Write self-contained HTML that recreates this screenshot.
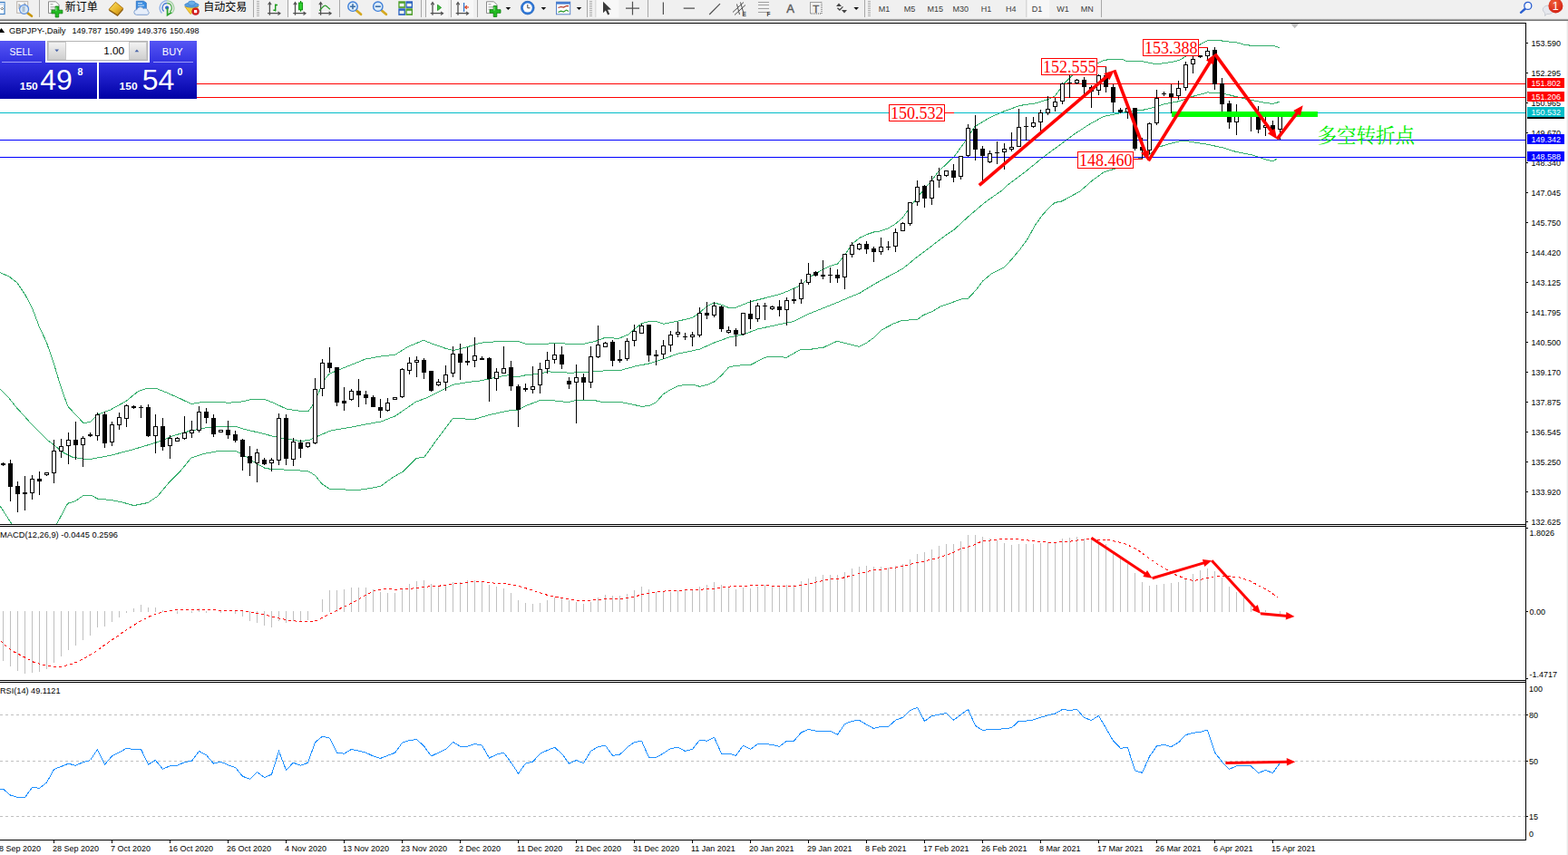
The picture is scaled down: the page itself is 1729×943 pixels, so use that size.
<!DOCTYPE html>
<html><head><meta charset="utf-8"><title>GBPJPY Daily</title>
<style>
html,body{margin:0;padding:0;background:#fff}
body{width:1729px;height:943px;overflow:hidden;position:relative;font-family:"Liberation Sans",sans-serif}
svg{position:absolute;left:0;top:0;display:block}
</style></head><body>
<svg width="1729" height="943" viewBox="0 0 1729 943">
<defs><clipPath id="mainclip"><rect x="0" y="26" width="1682" height="552"/></clipPath>
<linearGradient id="tbline" x1="0" y1="0" x2="0" y2="1"><stop offset="0" stop-color="#e0e0e0"/><stop offset="0.75" stop-color="#707070"/><stop offset="1" stop-color="#a0a0a0"/></linearGradient>
<linearGradient id="gold" x1="0" y1="0" x2="1" y2="1"><stop offset="0" stop-color="#fbe36a"/><stop offset="0.55" stop-color="#e8b62a"/><stop offset="1" stop-color="#b87a10"/></linearGradient>
<radialGradient id="redb" cx="0.4" cy="0.3" r="0.8"><stop offset="0" stop-color="#f0603a"/><stop offset="1" stop-color="#d01a10"/></radialGradient>
<linearGradient id="btn1" x1="0" y1="0" x2="0" y2="1"><stop offset="0" stop-color="#5656f4"/><stop offset="1" stop-color="#3030e0"/></linearGradient>
<linearGradient id="btn2" x1="0" y1="0" x2="0" y2="1"><stop offset="0" stop-color="#3232e2"/><stop offset="1" stop-color="#0000a4"/></linearGradient>
<linearGradient id="spin" x1="0" y1="0" x2="0" y2="1"><stop offset="0" stop-color="#f4f4f4"/><stop offset="0.5" stop-color="#e0e0e0"/><stop offset="1" stop-color="#cfcfcf"/></linearGradient>
</defs>
<rect x="0" y="0" width="1729" height="943" fill="#fff"/>
<g clip-path="url(#mainclip)">
<polyline fill="none" shape-rendering="crispEdges" stroke="#34ae6c" stroke-width="1" points="0,300.5 10.4,305.2 19.1,312.1 27.8,325.1 35.6,339.9 43.4,360.7 51.2,377.2 59,399.7 66.8,425.8 74.6,447.8 83.3,457.3 92,466.5 99.8,465.5 107.6,457.3 121.5,452.1 138.8,442.6 152.7,431.3 163.1,428.2 171.8,428.2 183.9,433 199.5,440 210.8,445.5 223.8,443.4 242.9,443.4 251.6,444.3 267.2,442.9 277.6,440.3 291.5,440.3 302.1,444.5 316,451.1 329.9,453.2 340.3,453.2 345.5,445.9 350.7,434.6 356.8,419.9 362.9,412.6 371.6,408.6 387.2,402.5 402.8,396.1 420.1,393 435.8,391.2 449.6,382.6 467,375.3 477.4,379.4 491.3,384.3 500,386.4 515.6,382.6 529.5,378.2 550.3,376.5 571.1,376.5 580,379.4 597.4,379.9 611.2,378.2 628.6,379.4 644.2,379.1 656.3,376.5 666.8,372.5 682.4,373.3 692.8,369 707.5,356.5 715.3,354.8 724,354.6 731.8,357.2 747.4,354.2 763.9,350.3 771.6,344.7 779.5,337.8 787.5,333.9 795.2,336 803.8,339.5 811.5,339.2 821.2,335.2 828.1,332.6 843.7,328.7 859.4,324.7 868,321.3 883.5,314.5 891.5,306.2 907.5,297.2 915.5,293.4 923.4,291.1 931.4,281.6 939.4,269.4 947.6,262.5 955.5,258.7 963.5,256 971.5,254.7 979.5,251.7 987.5,246.9 995.5,239.9 1003.4,228.6 1011.4,218.2 1019.6,207.8 1025.3,201.7 1034.7,189.3 1052.1,172.8 1065.9,153.7 1074.6,139.8 1092,129.4 1107.6,122.5 1124.9,116.4 1142.3,113.8 1156.2,109.5 1163.1,106 1173.5,92.1 1182.2,83.4 1195,75 1210.4,69.6 1216,67 1223.3,65.4 1237.2,65.4 1242.7,67.5 1260,67.8 1274.7,70.8 1292.1,68.5 1300.7,66.4 1307.7,62.1 1315,55 1323.3,49.1 1331.4,44.6 1343.3,44.3 1351.1,45.6 1363.5,46.8 1371.5,49.1 1379.5,50.3 1403.5,50.4 1411.4,52.6"/>
<polyline fill="none" shape-rendering="crispEdges" stroke="#34ae6c" stroke-width="1" points="0,428.8 10.4,439.6 17.4,448.6 34.7,467.7 52,485 59,490.3 69.4,499 79.8,504.2 92,506.2 100.6,506.2 121.5,502.4 147.5,495.5 173.5,487.7 190.9,480.7 208.2,475.5 225.6,472 242.9,470.3 260.3,470.3 270.7,473.8 286.3,477.3 302.1,481.5 316,484.1 329.9,486.3 340.3,485.8 350.7,480.9 364.6,475 387.2,471.1 402.8,468.1 420.1,465 435.8,458.9 449.6,449.4 458.3,443.3 472.2,438.1 486.1,431.1 500,424.2 515.6,421.6 529.5,419.9 550.3,415.5 560.7,413.8 569.4,415.9 581.5,413.4 595.6,412.4 603.4,409.8 628.6,411.2 649.4,410.3 666.8,408.9 685.8,408 701.5,403.7 715.3,401.1 727.5,397.3 747.4,390.2 771.6,385.1 788.2,377.7 803.8,372.1 819.6,369 835.6,362.9 851.6,359.5 867.5,356 873.9,354.9 888.9,347.4 906.3,340.4 922.1,334.1 939.4,326.7 948.1,323.2 963.5,313.7 979.5,305 995.5,296.3 1011.4,283.3 1027.6,271.1 1043.5,259 1051.5,253.8 1069.5,237.3 1086.9,222.6 1104.3,210.4 1111.1,204 1131.9,188.4 1151,172.8 1170,158.9 1183.9,148.5 1199.6,138.1 1216.9,128.5 1230.8,125.6 1246.4,122.5 1260.3,121.3 1267.8,119.6 1283.4,115 1299.5,111.8 1315.5,106.3 1331.4,102 1343.3,102.1 1356.5,105 1369.8,108.3 1383.1,111 1396.3,113.6 1403.5,114.4 1411.4,112.2"/>
<polyline fill="none" shape-rendering="crispEdges" stroke="#34ae6c" stroke-width="1" points="0,558 13,578"/>
<polyline fill="none" shape-rendering="crispEdges" stroke="#34ae6c" stroke-width="1" points="62.5,578 74.6,555.3 83.3,552.7 92,546.3 100.6,546.3 107.6,550.1 121.5,551.4 133.6,553.6 147.5,557.6 163.1,554.5 173.5,547.5 187.4,531 199.5,518.9 210.8,505 225.6,500.3 242.9,497.2 260.3,497.6 270.7,503.3 281.1,510.2 291.5,516 299.5,517.6 316,518.1 339.5,519.5 347.3,524.2 355.1,533.7 363.7,539.4 383.7,540.1 397.6,540.1 411.5,538 420.1,536 434,525.9 444.4,520.3 459.2,505.4 467.9,504.2 480.9,486 499.4,461.2 522.5,462.6 539.9,457.5 560.7,453 571.1,452.1 581.5,446.9 595.6,441.5 611.2,441.9 626.9,443.6 635.5,441.4 654.6,441.4 666.8,444 684.1,443.3 699.6,446.6 707.5,448.3 715.5,447.6 723.5,443.6 731.5,434.6 739.5,429.7 747.4,425.9 755.6,424.2 763.6,424.2 771.6,426.3 779.5,424.5 787.5,421.1 795.5,414.1 803.5,405.1 811.5,403.2 827.6,402.5 843.6,394.2 851.6,393.3 860,393.4 866.9,394.5 882.6,385.5 893.5,385.3 908,383.2 923,376.3 947.3,382.4 954.9,378.6 963,372.8 972.8,363.5 986.1,356.6 994.8,353.5 1011.5,352.3 1018.5,347.4 1027.7,343.6 1037,338.1 1047.4,334.6 1059.1,330.1 1067.5,329.3 1075.6,320.6 1083.4,310.2 1093.8,301.5 1107.7,294.6 1116.4,285 1125.1,274.6 1133.8,262.5 1140.7,249.5 1149.4,237.3 1156.3,229.5 1163.3,223.4 1170,222.2 1175.3,219.6 1190.9,211 1204.8,198.8 1216.9,190.1 1230,185.9 1240,180 1250,175.7 1259,174.4 1267.4,170.3 1277.2,162.3 1287.6,159.2 1300,156 1309.4,155.8 1331.4,159.3 1347.6,162.7 1363.5,167.6 1379.5,170.6 1395.5,175.8 1403.5,177.8 1408.3,174.9"/>
</g>
<g shape-rendering="crispEdges">
<rect x="0" y="92" width="1682" height="1" fill="#ff0000"/>
<rect x="0" y="107" width="1682" height="1" fill="#ff0000"/>
<rect x="0" y="124" width="1682" height="1" fill="#00bcc8"/>
<rect x="0" y="154" width="1682" height="1" fill="#0000ff"/>
<rect x="0" y="173" width="1682" height="1" fill="#0000ff"/>
</g>
<g shape-rendering="crispEdges">
<rect x="3" y="510" width="1" height="4" fill="#000"/>
<rect x="1" y="511" width="5" height="2" fill="#000"/>
<rect x="11" y="507" width="1" height="46" fill="#000"/>
<rect x="9" y="511" width="5" height="26" fill="#000"/>
<rect x="19" y="531" width="1" height="34" fill="#000"/>
<rect x="17" y="536" width="5" height="9" fill="#000"/>
<rect x="27" y="525" width="1" height="38" fill="#000"/>
<rect x="25" y="543" width="5" height="2" fill="#000"/>
<rect x="35" y="524" width="1" height="27" fill="#000"/>
<rect x="33" y="528" width="5" height="16" fill="#000"/>
<rect x="34" y="529" width="3" height="14" fill="#fff"/>
<rect x="43" y="520" width="1" height="26" fill="#000"/>
<rect x="41" y="528" width="5" height="3" fill="#000"/>
<rect x="51" y="521" width="1" height="4" fill="#000"/>
<rect x="49" y="521" width="5" height="3" fill="#000"/>
<rect x="50" y="522" width="3" height="1" fill="#fff"/>
<rect x="59" y="485" width="1" height="48" fill="#000"/>
<rect x="57" y="497" width="5" height="25" fill="#000"/>
<rect x="58" y="498" width="3" height="23" fill="#fff"/>
<rect x="67" y="484" width="1" height="21" fill="#000"/>
<rect x="65" y="492" width="5" height="6" fill="#000"/>
<rect x="66" y="493" width="3" height="4" fill="#fff"/>
<rect x="75" y="477" width="1" height="35" fill="#000"/>
<rect x="73" y="485" width="5" height="7" fill="#000"/>
<rect x="74" y="486" width="3" height="5" fill="#fff"/>
<rect x="83" y="465" width="1" height="42" fill="#000"/>
<rect x="81" y="485" width="5" height="6" fill="#000"/>
<rect x="91" y="481" width="1" height="34" fill="#000"/>
<rect x="89" y="483" width="5" height="8" fill="#000"/>
<rect x="90" y="484" width="3" height="6" fill="#fff"/>
<rect x="99" y="477" width="1" height="5" fill="#000"/>
<rect x="97" y="479" width="5" height="2" fill="#000"/>
<rect x="107" y="455" width="1" height="31" fill="#000"/>
<rect x="105" y="457" width="5" height="24" fill="#000"/>
<rect x="106" y="458" width="3" height="22" fill="#fff"/>
<rect x="115" y="454" width="1" height="40" fill="#000"/>
<rect x="113" y="457" width="5" height="32" fill="#000"/>
<rect x="123" y="465" width="1" height="27" fill="#000"/>
<rect x="121" y="468" width="5" height="20" fill="#000"/>
<rect x="122" y="469" width="3" height="18" fill="#fff"/>
<rect x="131" y="455" width="1" height="19" fill="#000"/>
<rect x="129" y="460" width="5" height="9" fill="#000"/>
<rect x="130" y="461" width="3" height="7" fill="#fff"/>
<rect x="139" y="446" width="1" height="25" fill="#000"/>
<rect x="137" y="447" width="5" height="15" fill="#000"/>
<rect x="138" y="448" width="3" height="13" fill="#fff"/>
<rect x="147" y="447" width="1" height="4" fill="#000"/>
<rect x="145" y="448" width="5" height="2" fill="#000"/>
<rect x="155" y="447" width="1" height="14" fill="#000"/>
<rect x="153" y="449" width="5" height="1" fill="#000"/>
<rect x="163" y="446" width="1" height="36" fill="#000"/>
<rect x="161" y="449" width="5" height="32" fill="#000"/>
<rect x="171" y="457" width="1" height="43" fill="#000"/>
<rect x="169" y="470" width="5" height="11" fill="#000"/>
<rect x="170" y="471" width="3" height="9" fill="#fff"/>
<rect x="179" y="461" width="1" height="36" fill="#000"/>
<rect x="177" y="470" width="5" height="23" fill="#000"/>
<rect x="187" y="480" width="1" height="26" fill="#000"/>
<rect x="185" y="483" width="5" height="9" fill="#000"/>
<rect x="186" y="484" width="3" height="7" fill="#fff"/>
<rect x="195" y="482" width="1" height="5" fill="#000"/>
<rect x="193" y="483" width="5" height="4" fill="#000"/>
<rect x="194" y="484" width="3" height="2" fill="#fff"/>
<rect x="203" y="459" width="1" height="26" fill="#000"/>
<rect x="201" y="477" width="5" height="7" fill="#000"/>
<rect x="202" y="478" width="3" height="5" fill="#fff"/>
<rect x="211" y="464" width="1" height="19" fill="#000"/>
<rect x="209" y="474" width="5" height="4" fill="#000"/>
<rect x="210" y="475" width="3" height="2" fill="#fff"/>
<rect x="219" y="448" width="1" height="29" fill="#000"/>
<rect x="217" y="454" width="5" height="21" fill="#000"/>
<rect x="218" y="455" width="3" height="19" fill="#fff"/>
<rect x="227" y="450" width="1" height="17" fill="#000"/>
<rect x="225" y="454" width="5" height="7" fill="#000"/>
<rect x="235" y="457" width="1" height="25" fill="#000"/>
<rect x="233" y="461" width="5" height="18" fill="#000"/>
<rect x="243" y="474" width="1" height="3" fill="#000"/>
<rect x="241" y="474" width="5" height="3" fill="#000"/>
<rect x="242" y="475" width="3" height="1" fill="#fff"/>
<rect x="251" y="464" width="1" height="20" fill="#000"/>
<rect x="249" y="474" width="5" height="6" fill="#000"/>
<rect x="259" y="475" width="1" height="13" fill="#000"/>
<rect x="257" y="479" width="5" height="7" fill="#000"/>
<rect x="267" y="484" width="1" height="35" fill="#000"/>
<rect x="265" y="485" width="5" height="19" fill="#000"/>
<rect x="275" y="492" width="1" height="33" fill="#000"/>
<rect x="273" y="503" width="5" height="8" fill="#000"/>
<rect x="283" y="495" width="1" height="37" fill="#000"/>
<rect x="281" y="499" width="5" height="12" fill="#000"/>
<rect x="282" y="500" width="3" height="10" fill="#fff"/>
<rect x="291" y="505" width="1" height="8" fill="#000"/>
<rect x="289" y="507" width="5" height="5" fill="#000"/>
<rect x="299" y="505" width="1" height="15" fill="#000"/>
<rect x="297" y="507" width="5" height="4" fill="#000"/>
<rect x="298" y="508" width="3" height="2" fill="#fff"/>
<rect x="307" y="456" width="1" height="57" fill="#000"/>
<rect x="305" y="461" width="5" height="47" fill="#000"/>
<rect x="306" y="462" width="3" height="45" fill="#fff"/>
<rect x="315" y="457" width="1" height="56" fill="#000"/>
<rect x="313" y="461" width="5" height="45" fill="#000"/>
<rect x="323" y="483" width="1" height="31" fill="#000"/>
<rect x="321" y="487" width="5" height="20" fill="#000"/>
<rect x="322" y="488" width="3" height="18" fill="#fff"/>
<rect x="331" y="485" width="1" height="20" fill="#000"/>
<rect x="329" y="488" width="5" height="7" fill="#000"/>
<rect x="339" y="488" width="1" height="6" fill="#000"/>
<rect x="337" y="488" width="5" height="5" fill="#000"/>
<rect x="338" y="489" width="3" height="3" fill="#fff"/>
<rect x="347" y="417" width="1" height="73" fill="#000"/>
<rect x="345" y="429" width="5" height="60" fill="#000"/>
<rect x="346" y="430" width="3" height="58" fill="#fff"/>
<rect x="355" y="396" width="1" height="41" fill="#000"/>
<rect x="353" y="400" width="5" height="29" fill="#000"/>
<rect x="354" y="401" width="3" height="27" fill="#fff"/>
<rect x="363" y="383" width="1" height="28" fill="#000"/>
<rect x="361" y="400" width="5" height="6" fill="#000"/>
<rect x="371" y="405" width="1" height="43" fill="#000"/>
<rect x="369" y="405" width="5" height="39" fill="#000"/>
<rect x="379" y="427" width="1" height="26" fill="#000"/>
<rect x="377" y="442" width="5" height="3" fill="#000"/>
<rect x="387" y="429" width="1" height="13" fill="#000"/>
<rect x="385" y="431" width="5" height="10" fill="#000"/>
<rect x="386" y="432" width="3" height="8" fill="#fff"/>
<rect x="395" y="418" width="1" height="31" fill="#000"/>
<rect x="393" y="431" width="5" height="5" fill="#000"/>
<rect x="403" y="431" width="1" height="15" fill="#000"/>
<rect x="401" y="435" width="5" height="4" fill="#000"/>
<rect x="411" y="436" width="1" height="13" fill="#000"/>
<rect x="409" y="438" width="5" height="11" fill="#000"/>
<rect x="419" y="440" width="1" height="21" fill="#000"/>
<rect x="417" y="449" width="5" height="4" fill="#000"/>
<rect x="427" y="439" width="1" height="15" fill="#000"/>
<rect x="425" y="444" width="5" height="9" fill="#000"/>
<rect x="426" y="445" width="3" height="7" fill="#fff"/>
<rect x="435" y="438" width="1" height="3" fill="#000"/>
<rect x="433" y="438" width="5" height="3" fill="#000"/>
<rect x="434" y="439" width="3" height="1" fill="#fff"/>
<rect x="443" y="406" width="1" height="33" fill="#000"/>
<rect x="441" y="407" width="5" height="31" fill="#000"/>
<rect x="442" y="408" width="3" height="29" fill="#fff"/>
<rect x="451" y="394" width="1" height="19" fill="#000"/>
<rect x="449" y="400" width="5" height="9" fill="#000"/>
<rect x="450" y="401" width="3" height="7" fill="#fff"/>
<rect x="459" y="393" width="1" height="23" fill="#000"/>
<rect x="457" y="397" width="5" height="3" fill="#000"/>
<rect x="458" y="398" width="3" height="1" fill="#fff"/>
<rect x="467" y="395" width="1" height="23" fill="#000"/>
<rect x="465" y="397" width="5" height="14" fill="#000"/>
<rect x="475" y="409" width="1" height="23" fill="#000"/>
<rect x="473" y="409" width="5" height="22" fill="#000"/>
<rect x="483" y="418" width="1" height="8" fill="#000"/>
<rect x="481" y="421" width="5" height="4" fill="#000"/>
<rect x="482" y="422" width="3" height="2" fill="#fff"/>
<rect x="491" y="403" width="1" height="28" fill="#000"/>
<rect x="489" y="413" width="5" height="9" fill="#000"/>
<rect x="490" y="414" width="3" height="7" fill="#fff"/>
<rect x="499" y="382" width="1" height="34" fill="#000"/>
<rect x="497" y="390" width="5" height="22" fill="#000"/>
<rect x="498" y="391" width="3" height="20" fill="#fff"/>
<rect x="507" y="379" width="1" height="40" fill="#000"/>
<rect x="505" y="390" width="5" height="10" fill="#000"/>
<rect x="515" y="383" width="1" height="20" fill="#000"/>
<rect x="513" y="398" width="5" height="2" fill="#000"/>
<rect x="523" y="372" width="1" height="33" fill="#000"/>
<rect x="521" y="392" width="5" height="6" fill="#000"/>
<rect x="522" y="393" width="3" height="4" fill="#fff"/>
<rect x="531" y="393" width="1" height="4" fill="#000"/>
<rect x="529" y="395" width="5" height="2" fill="#000"/>
<rect x="539" y="394" width="1" height="49" fill="#000"/>
<rect x="537" y="395" width="5" height="23" fill="#000"/>
<rect x="547" y="406" width="1" height="25" fill="#000"/>
<rect x="545" y="410" width="5" height="8" fill="#000"/>
<rect x="546" y="411" width="3" height="6" fill="#fff"/>
<rect x="555" y="382" width="1" height="30" fill="#000"/>
<rect x="553" y="406" width="5" height="6" fill="#000"/>
<rect x="554" y="407" width="3" height="4" fill="#fff"/>
<rect x="563" y="398" width="1" height="33" fill="#000"/>
<rect x="561" y="405" width="5" height="21" fill="#000"/>
<rect x="571" y="424" width="1" height="47" fill="#000"/>
<rect x="569" y="426" width="5" height="26" fill="#000"/>
<rect x="579" y="423" width="1" height="9" fill="#000"/>
<rect x="577" y="428" width="5" height="2" fill="#000"/>
<rect x="587" y="404" width="1" height="30" fill="#000"/>
<rect x="585" y="426" width="5" height="4" fill="#000"/>
<rect x="586" y="427" width="3" height="2" fill="#fff"/>
<rect x="595" y="400" width="1" height="34" fill="#000"/>
<rect x="593" y="407" width="5" height="18" fill="#000"/>
<rect x="594" y="408" width="3" height="16" fill="#fff"/>
<rect x="603" y="388" width="1" height="24" fill="#000"/>
<rect x="601" y="397" width="5" height="10" fill="#000"/>
<rect x="602" y="398" width="3" height="8" fill="#fff"/>
<rect x="611" y="379" width="1" height="22" fill="#000"/>
<rect x="609" y="391" width="5" height="6" fill="#000"/>
<rect x="610" y="392" width="3" height="4" fill="#fff"/>
<rect x="619" y="382" width="1" height="25" fill="#000"/>
<rect x="617" y="391" width="5" height="11" fill="#000"/>
<rect x="627" y="416" width="1" height="13" fill="#000"/>
<rect x="625" y="420" width="5" height="4" fill="#000"/>
<rect x="635" y="402" width="1" height="65" fill="#000"/>
<rect x="633" y="416" width="5" height="6" fill="#000"/>
<rect x="634" y="417" width="3" height="4" fill="#fff"/>
<rect x="643" y="412" width="1" height="29" fill="#000"/>
<rect x="641" y="416" width="5" height="6" fill="#000"/>
<rect x="651" y="382" width="1" height="46" fill="#000"/>
<rect x="649" y="393" width="5" height="29" fill="#000"/>
<rect x="650" y="394" width="3" height="27" fill="#fff"/>
<rect x="659" y="359" width="1" height="36" fill="#000"/>
<rect x="657" y="380" width="5" height="14" fill="#000"/>
<rect x="658" y="381" width="3" height="12" fill="#fff"/>
<rect x="667" y="377" width="1" height="6" fill="#000"/>
<rect x="665" y="378" width="5" height="5" fill="#000"/>
<rect x="666" y="379" width="3" height="3" fill="#fff"/>
<rect x="675" y="375" width="1" height="29" fill="#000"/>
<rect x="673" y="377" width="5" height="21" fill="#000"/>
<rect x="683" y="386" width="1" height="14" fill="#000"/>
<rect x="681" y="396" width="5" height="2" fill="#000"/>
<rect x="691" y="373" width="1" height="25" fill="#000"/>
<rect x="689" y="376" width="5" height="20" fill="#000"/>
<rect x="690" y="377" width="3" height="18" fill="#fff"/>
<rect x="699" y="358" width="1" height="24" fill="#000"/>
<rect x="697" y="365" width="5" height="11" fill="#000"/>
<rect x="698" y="366" width="3" height="9" fill="#fff"/>
<rect x="707" y="357" width="1" height="11" fill="#000"/>
<rect x="705" y="359" width="5" height="9" fill="#000"/>
<rect x="706" y="360" width="3" height="7" fill="#fff"/>
<rect x="715" y="358" width="1" height="41" fill="#000"/>
<rect x="713" y="358" width="5" height="34" fill="#000"/>
<rect x="723" y="386" width="1" height="17" fill="#000"/>
<rect x="721" y="391" width="5" height="2" fill="#000"/>
<rect x="731" y="375" width="1" height="21" fill="#000"/>
<rect x="729" y="381" width="5" height="10" fill="#000"/>
<rect x="730" y="382" width="3" height="8" fill="#fff"/>
<rect x="739" y="365" width="1" height="23" fill="#000"/>
<rect x="737" y="369" width="5" height="12" fill="#000"/>
<rect x="738" y="370" width="3" height="10" fill="#fff"/>
<rect x="747" y="355" width="1" height="17" fill="#000"/>
<rect x="745" y="366" width="5" height="3" fill="#000"/>
<rect x="746" y="367" width="3" height="1" fill="#fff"/>
<rect x="755" y="367" width="1" height="8" fill="#000"/>
<rect x="753" y="371" width="5" height="1" fill="#000"/>
<rect x="763" y="366" width="1" height="16" fill="#000"/>
<rect x="761" y="369" width="5" height="3" fill="#000"/>
<rect x="762" y="370" width="3" height="1" fill="#fff"/>
<rect x="771" y="339" width="1" height="33" fill="#000"/>
<rect x="769" y="345" width="5" height="25" fill="#000"/>
<rect x="770" y="346" width="3" height="23" fill="#fff"/>
<rect x="779" y="333" width="1" height="19" fill="#000"/>
<rect x="777" y="345" width="5" height="3" fill="#000"/>
<rect x="787" y="333" width="1" height="17" fill="#000"/>
<rect x="785" y="337" width="5" height="11" fill="#000"/>
<rect x="786" y="338" width="3" height="9" fill="#fff"/>
<rect x="795" y="337" width="1" height="29" fill="#000"/>
<rect x="793" y="338" width="5" height="25" fill="#000"/>
<rect x="803" y="360" width="1" height="8" fill="#000"/>
<rect x="801" y="364" width="5" height="3" fill="#000"/>
<rect x="802" y="365" width="3" height="1" fill="#fff"/>
<rect x="811" y="362" width="1" height="20" fill="#000"/>
<rect x="809" y="364" width="5" height="5" fill="#000"/>
<rect x="819" y="345" width="1" height="25" fill="#000"/>
<rect x="817" y="345" width="5" height="24" fill="#000"/>
<rect x="818" y="346" width="3" height="22" fill="#fff"/>
<rect x="827" y="331" width="1" height="32" fill="#000"/>
<rect x="825" y="346" width="5" height="6" fill="#000"/>
<rect x="835" y="334" width="1" height="21" fill="#000"/>
<rect x="833" y="337" width="5" height="15" fill="#000"/>
<rect x="834" y="338" width="3" height="13" fill="#fff"/>
<rect x="843" y="334" width="1" height="19" fill="#000"/>
<rect x="841" y="337" width="5" height="1" fill="#000"/>
<rect x="851" y="337" width="1" height="5" fill="#000"/>
<rect x="849" y="338" width="5" height="3" fill="#000"/>
<rect x="850" y="339" width="3" height="1" fill="#fff"/>
<rect x="859" y="331" width="1" height="18" fill="#000"/>
<rect x="857" y="338" width="5" height="4" fill="#000"/>
<rect x="867" y="328" width="1" height="31" fill="#000"/>
<rect x="865" y="331" width="5" height="11" fill="#000"/>
<rect x="866" y="332" width="3" height="9" fill="#fff"/>
<rect x="875" y="318" width="1" height="17" fill="#000"/>
<rect x="873" y="330" width="5" height="2" fill="#000"/>
<rect x="883" y="308" width="1" height="27" fill="#000"/>
<rect x="881" y="312" width="5" height="18" fill="#000"/>
<rect x="882" y="313" width="3" height="16" fill="#fff"/>
<rect x="891" y="290" width="1" height="24" fill="#000"/>
<rect x="889" y="302" width="5" height="10" fill="#000"/>
<rect x="890" y="303" width="3" height="8" fill="#fff"/>
<rect x="899" y="299" width="1" height="6" fill="#000"/>
<rect x="897" y="300" width="5" height="4" fill="#000"/>
<rect x="907" y="287" width="1" height="21" fill="#000"/>
<rect x="905" y="303" width="5" height="2" fill="#000"/>
<rect x="915" y="295" width="1" height="17" fill="#000"/>
<rect x="913" y="303" width="5" height="1" fill="#000"/>
<rect x="923" y="297" width="1" height="15" fill="#000"/>
<rect x="921" y="303" width="5" height="4" fill="#000"/>
<rect x="931" y="280" width="1" height="39" fill="#000"/>
<rect x="929" y="280" width="5" height="26" fill="#000"/>
<rect x="930" y="281" width="3" height="24" fill="#fff"/>
<rect x="939" y="267" width="1" height="17" fill="#000"/>
<rect x="937" y="270" width="5" height="11" fill="#000"/>
<rect x="938" y="271" width="3" height="9" fill="#fff"/>
<rect x="947" y="268" width="1" height="8" fill="#000"/>
<rect x="945" y="269" width="5" height="6" fill="#000"/>
<rect x="946" y="270" width="3" height="4" fill="#fff"/>
<rect x="955" y="266" width="1" height="14" fill="#000"/>
<rect x="953" y="269" width="5" height="6" fill="#000"/>
<rect x="963" y="272" width="1" height="17" fill="#000"/>
<rect x="961" y="274" width="5" height="4" fill="#000"/>
<rect x="971" y="262" width="1" height="19" fill="#000"/>
<rect x="969" y="272" width="5" height="6" fill="#000"/>
<rect x="970" y="273" width="3" height="4" fill="#fff"/>
<rect x="979" y="266" width="1" height="10" fill="#000"/>
<rect x="977" y="272" width="5" height="1" fill="#000"/>
<rect x="987" y="252" width="1" height="26" fill="#000"/>
<rect x="985" y="256" width="5" height="16" fill="#000"/>
<rect x="986" y="257" width="3" height="14" fill="#fff"/>
<rect x="995" y="245" width="1" height="10" fill="#000"/>
<rect x="993" y="246" width="5" height="9" fill="#000"/>
<rect x="994" y="247" width="3" height="7" fill="#fff"/>
<rect x="1003" y="223" width="1" height="26" fill="#000"/>
<rect x="1001" y="223" width="5" height="24" fill="#000"/>
<rect x="1002" y="224" width="3" height="22" fill="#fff"/>
<rect x="1011" y="199" width="1" height="28" fill="#000"/>
<rect x="1009" y="206" width="5" height="17" fill="#000"/>
<rect x="1010" y="207" width="3" height="15" fill="#fff"/>
<rect x="1019" y="204" width="1" height="25" fill="#000"/>
<rect x="1017" y="205" width="5" height="14" fill="#000"/>
<rect x="1027" y="194" width="1" height="32" fill="#000"/>
<rect x="1025" y="199" width="5" height="20" fill="#000"/>
<rect x="1026" y="200" width="3" height="18" fill="#fff"/>
<rect x="1035" y="185" width="1" height="22" fill="#000"/>
<rect x="1033" y="193" width="5" height="6" fill="#000"/>
<rect x="1034" y="194" width="3" height="4" fill="#fff"/>
<rect x="1043" y="188" width="1" height="7" fill="#000"/>
<rect x="1041" y="188" width="5" height="6" fill="#000"/>
<rect x="1042" y="189" width="3" height="4" fill="#fff"/>
<rect x="1051" y="181" width="1" height="20" fill="#000"/>
<rect x="1049" y="188" width="5" height="8" fill="#000"/>
<rect x="1059" y="172" width="1" height="26" fill="#000"/>
<rect x="1057" y="172" width="5" height="23" fill="#000"/>
<rect x="1058" y="173" width="3" height="21" fill="#fff"/>
<rect x="1067" y="137" width="1" height="36" fill="#000"/>
<rect x="1065" y="141" width="5" height="31" fill="#000"/>
<rect x="1066" y="142" width="3" height="29" fill="#fff"/>
<rect x="1075" y="127" width="1" height="50" fill="#000"/>
<rect x="1073" y="142" width="5" height="23" fill="#000"/>
<rect x="1083" y="161" width="1" height="40" fill="#000"/>
<rect x="1081" y="164" width="5" height="8" fill="#000"/>
<rect x="1091" y="166" width="1" height="14" fill="#000"/>
<rect x="1089" y="169" width="5" height="10" fill="#000"/>
<rect x="1090" y="170" width="3" height="8" fill="#fff"/>
<rect x="1099" y="156" width="1" height="25" fill="#000"/>
<rect x="1097" y="168" width="5" height="1" fill="#000"/>
<rect x="1107" y="158" width="1" height="29" fill="#000"/>
<rect x="1105" y="164" width="5" height="4" fill="#000"/>
<rect x="1106" y="165" width="3" height="2" fill="#fff"/>
<rect x="1115" y="146" width="1" height="21" fill="#000"/>
<rect x="1113" y="162" width="5" height="3" fill="#000"/>
<rect x="1114" y="163" width="3" height="1" fill="#fff"/>
<rect x="1123" y="120" width="1" height="42" fill="#000"/>
<rect x="1121" y="140" width="5" height="22" fill="#000"/>
<rect x="1122" y="141" width="3" height="20" fill="#fff"/>
<rect x="1131" y="129" width="1" height="26" fill="#000"/>
<rect x="1129" y="139" width="5" height="1" fill="#000"/>
<rect x="1139" y="129" width="1" height="12" fill="#000"/>
<rect x="1137" y="135" width="5" height="5" fill="#000"/>
<rect x="1138" y="136" width="3" height="3" fill="#fff"/>
<rect x="1147" y="121" width="1" height="25" fill="#000"/>
<rect x="1145" y="124" width="5" height="11" fill="#000"/>
<rect x="1146" y="125" width="3" height="9" fill="#fff"/>
<rect x="1155" y="106" width="1" height="21" fill="#000"/>
<rect x="1153" y="120" width="5" height="5" fill="#000"/>
<rect x="1154" y="121" width="3" height="3" fill="#fff"/>
<rect x="1163" y="108" width="1" height="15" fill="#000"/>
<rect x="1161" y="112" width="5" height="6" fill="#000"/>
<rect x="1162" y="113" width="3" height="4" fill="#fff"/>
<rect x="1171" y="91" width="1" height="24" fill="#000"/>
<rect x="1169" y="92" width="5" height="20" fill="#000"/>
<rect x="1170" y="93" width="3" height="18" fill="#fff"/>
<rect x="1179" y="82" width="1" height="26" fill="#000"/>
<rect x="1177" y="91" width="5" height="1" fill="#000"/>
<rect x="1187" y="87" width="1" height="6" fill="#000"/>
<rect x="1185" y="88" width="5" height="4" fill="#000"/>
<rect x="1186" y="89" width="3" height="2" fill="#fff"/>
<rect x="1195" y="85" width="1" height="20" fill="#000"/>
<rect x="1193" y="88" width="5" height="8" fill="#000"/>
<rect x="1203" y="94" width="1" height="25" fill="#000"/>
<rect x="1201" y="96" width="5" height="5" fill="#000"/>
<rect x="1211" y="82" width="1" height="23" fill="#000"/>
<rect x="1209" y="83" width="5" height="17" fill="#000"/>
<rect x="1210" y="84" width="3" height="15" fill="#fff"/>
<rect x="1219" y="74" width="1" height="28" fill="#000"/>
<rect x="1217" y="83" width="5" height="13" fill="#000"/>
<rect x="1227" y="93" width="1" height="31" fill="#000"/>
<rect x="1225" y="96" width="5" height="17" fill="#000"/>
<rect x="1235" y="119" width="1" height="6" fill="#000"/>
<rect x="1233" y="121" width="5" height="3" fill="#000"/>
<rect x="1243" y="119" width="1" height="12" fill="#000"/>
<rect x="1241" y="119" width="5" height="5" fill="#000"/>
<rect x="1242" y="120" width="3" height="3" fill="#fff"/>
<rect x="1251" y="119" width="1" height="47" fill="#000"/>
<rect x="1249" y="119" width="5" height="45" fill="#000"/>
<rect x="1259" y="152" width="1" height="23" fill="#000"/>
<rect x="1257" y="162" width="5" height="4" fill="#000"/>
<rect x="1267" y="135" width="1" height="35" fill="#000"/>
<rect x="1265" y="136" width="5" height="30" fill="#000"/>
<rect x="1266" y="137" width="3" height="28" fill="#fff"/>
<rect x="1275" y="99" width="1" height="39" fill="#000"/>
<rect x="1273" y="108" width="5" height="28" fill="#000"/>
<rect x="1274" y="109" width="3" height="26" fill="#fff"/>
<rect x="1283" y="101" width="1" height="5" fill="#000"/>
<rect x="1281" y="103" width="5" height="1" fill="#000"/>
<rect x="1291" y="93" width="1" height="32" fill="#000"/>
<rect x="1289" y="103" width="5" height="4" fill="#000"/>
<rect x="1299" y="89" width="1" height="21" fill="#000"/>
<rect x="1297" y="97" width="5" height="9" fill="#000"/>
<rect x="1298" y="98" width="3" height="7" fill="#fff"/>
<rect x="1307" y="68" width="1" height="32" fill="#000"/>
<rect x="1305" y="71" width="5" height="26" fill="#000"/>
<rect x="1306" y="72" width="3" height="24" fill="#fff"/>
<rect x="1315" y="61" width="1" height="20" fill="#000"/>
<rect x="1313" y="65" width="5" height="6" fill="#000"/>
<rect x="1314" y="66" width="3" height="4" fill="#fff"/>
<rect x="1323" y="61" width="1" height="3" fill="#000"/>
<rect x="1321" y="61" width="5" height="2" fill="#000"/>
<rect x="1331" y="53" width="1" height="13" fill="#000"/>
<rect x="1329" y="56" width="5" height="6" fill="#000"/>
<rect x="1330" y="57" width="3" height="4" fill="#fff"/>
<rect x="1339" y="52" width="1" height="47" fill="#000"/>
<rect x="1337" y="55" width="5" height="38" fill="#000"/>
<rect x="1347" y="86" width="1" height="37" fill="#000"/>
<rect x="1345" y="92" width="5" height="23" fill="#000"/>
<rect x="1355" y="111" width="1" height="31" fill="#000"/>
<rect x="1353" y="114" width="5" height="21" fill="#000"/>
<rect x="1363" y="115" width="1" height="34" fill="#000"/>
<rect x="1361" y="127" width="5" height="8" fill="#000"/>
<rect x="1362" y="128" width="3" height="6" fill="#fff"/>
<rect x="1371" y="124" width="1" height="4" fill="#000"/>
<rect x="1369" y="124" width="5" height="4" fill="#000"/>
<rect x="1379" y="124" width="1" height="21" fill="#000"/>
<rect x="1377" y="125" width="5" height="3" fill="#000"/>
<rect x="1378" y="126" width="3" height="1" fill="#fff"/>
<rect x="1387" y="117" width="1" height="30" fill="#000"/>
<rect x="1385" y="125" width="5" height="18" fill="#000"/>
<rect x="1395" y="127" width="1" height="23" fill="#000"/>
<rect x="1393" y="138" width="5" height="3" fill="#000"/>
<rect x="1394" y="139" width="3" height="1" fill="#fff"/>
<rect x="1403" y="133" width="1" height="14" fill="#000"/>
<rect x="1401" y="138" width="5" height="5" fill="#000"/>
<rect x="1411" y="124" width="1" height="30" fill="#000"/>
<rect x="1409" y="127" width="5" height="16" fill="#000"/>
<rect x="1410" y="128" width="3" height="14" fill="#fff"/>
</g>
<rect x="1292" y="123" width="161" height="6" fill="#00ff00" shape-rendering="crispEdges"/>
<g shape-rendering="crispEdges">
<rect x="3" y="674" width="1" height="55" fill="#c0c0c0"/>
<rect x="11" y="674" width="1" height="61" fill="#c0c0c0"/>
<rect x="19" y="674" width="1" height="66" fill="#c0c0c0"/>
<rect x="27" y="674" width="1" height="69" fill="#c0c0c0"/>
<rect x="35" y="674" width="1" height="68" fill="#c0c0c0"/>
<rect x="43" y="674" width="1" height="67" fill="#c0c0c0"/>
<rect x="51" y="674" width="1" height="64" fill="#c0c0c0"/>
<rect x="59" y="674" width="1" height="57" fill="#c0c0c0"/>
<rect x="67" y="674" width="1" height="50" fill="#c0c0c0"/>
<rect x="75" y="674" width="1" height="43" fill="#c0c0c0"/>
<rect x="83" y="674" width="1" height="38" fill="#c0c0c0"/>
<rect x="91" y="674" width="1" height="32" fill="#c0c0c0"/>
<rect x="99" y="674" width="1" height="27" fill="#c0c0c0"/>
<rect x="107" y="674" width="1" height="18" fill="#c0c0c0"/>
<rect x="115" y="674" width="1" height="17" fill="#c0c0c0"/>
<rect x="123" y="674" width="1" height="12" fill="#c0c0c0"/>
<rect x="131" y="674" width="1" height="7" fill="#c0c0c0"/>
<rect x="139" y="674" width="1" height="2" fill="#c0c0c0"/>
<rect x="147" y="671" width="1" height="4" fill="#c0c0c0"/>
<rect x="155" y="667" width="1" height="8" fill="#c0c0c0"/>
<rect x="163" y="670" width="1" height="5" fill="#c0c0c0"/>
<rect x="171" y="670" width="1" height="5" fill="#c0c0c0"/>
<rect x="179" y="673" width="1" height="2" fill="#c0c0c0"/>
<rect x="195" y="674" width="1" height="3" fill="#c0c0c0"/>
<rect x="211" y="674" width="1" height="2" fill="#c0c0c0"/>
<rect x="219" y="671" width="1" height="4" fill="#c0c0c0"/>
<rect x="227" y="674" width="1" height="2" fill="#c0c0c0"/>
<rect x="243" y="674" width="1" height="2" fill="#c0c0c0"/>
<rect x="259" y="674" width="1" height="3" fill="#c0c0c0"/>
<rect x="267" y="674" width="1" height="6" fill="#c0c0c0"/>
<rect x="275" y="674" width="1" height="11" fill="#c0c0c0"/>
<rect x="283" y="674" width="1" height="13" fill="#c0c0c0"/>
<rect x="291" y="674" width="1" height="16" fill="#c0c0c0"/>
<rect x="299" y="674" width="1" height="18" fill="#c0c0c0"/>
<rect x="307" y="674" width="1" height="11" fill="#c0c0c0"/>
<rect x="315" y="674" width="1" height="13" fill="#c0c0c0"/>
<rect x="323" y="674" width="1" height="11" fill="#c0c0c0"/>
<rect x="331" y="674" width="1" height="11" fill="#c0c0c0"/>
<rect x="339" y="674" width="1" height="10" fill="#c0c0c0"/>
<rect x="355" y="661" width="1" height="14" fill="#c0c0c0"/>
<rect x="363" y="651" width="1" height="24" fill="#c0c0c0"/>
<rect x="371" y="651" width="1" height="24" fill="#c0c0c0"/>
<rect x="379" y="650" width="1" height="25" fill="#c0c0c0"/>
<rect x="387" y="648" width="1" height="27" fill="#c0c0c0"/>
<rect x="395" y="648" width="1" height="27" fill="#c0c0c0"/>
<rect x="403" y="648" width="1" height="27" fill="#c0c0c0"/>
<rect x="411" y="650" width="1" height="25" fill="#c0c0c0"/>
<rect x="419" y="653" width="1" height="22" fill="#c0c0c0"/>
<rect x="427" y="654" width="1" height="21" fill="#c0c0c0"/>
<rect x="435" y="654" width="1" height="21" fill="#c0c0c0"/>
<rect x="443" y="649" width="1" height="26" fill="#c0c0c0"/>
<rect x="451" y="644" width="1" height="31" fill="#c0c0c0"/>
<rect x="459" y="641" width="1" height="34" fill="#c0c0c0"/>
<rect x="467" y="640" width="1" height="35" fill="#c0c0c0"/>
<rect x="475" y="644" width="1" height="31" fill="#c0c0c0"/>
<rect x="483" y="647" width="1" height="28" fill="#c0c0c0"/>
<rect x="491" y="645" width="1" height="30" fill="#c0c0c0"/>
<rect x="499" y="642" width="1" height="33" fill="#c0c0c0"/>
<rect x="507" y="642" width="1" height="33" fill="#c0c0c0"/>
<rect x="515" y="640" width="1" height="35" fill="#c0c0c0"/>
<rect x="523" y="640" width="1" height="35" fill="#c0c0c0"/>
<rect x="531" y="642" width="1" height="33" fill="#c0c0c0"/>
<rect x="539" y="645" width="1" height="30" fill="#c0c0c0"/>
<rect x="547" y="647" width="1" height="28" fill="#c0c0c0"/>
<rect x="555" y="649" width="1" height="26" fill="#c0c0c0"/>
<rect x="563" y="654" width="1" height="21" fill="#c0c0c0"/>
<rect x="571" y="662" width="1" height="13" fill="#c0c0c0"/>
<rect x="579" y="665" width="1" height="10" fill="#c0c0c0"/>
<rect x="587" y="666" width="1" height="9" fill="#c0c0c0"/>
<rect x="595" y="665" width="1" height="10" fill="#c0c0c0"/>
<rect x="603" y="662" width="1" height="13" fill="#c0c0c0"/>
<rect x="611" y="659" width="1" height="16" fill="#c0c0c0"/>
<rect x="619" y="660" width="1" height="15" fill="#c0c0c0"/>
<rect x="627" y="662" width="1" height="13" fill="#c0c0c0"/>
<rect x="635" y="664" width="1" height="11" fill="#c0c0c0"/>
<rect x="643" y="666" width="1" height="9" fill="#c0c0c0"/>
<rect x="651" y="664" width="1" height="11" fill="#c0c0c0"/>
<rect x="659" y="659" width="1" height="16" fill="#c0c0c0"/>
<rect x="667" y="656" width="1" height="19" fill="#c0c0c0"/>
<rect x="675" y="657" width="1" height="18" fill="#c0c0c0"/>
<rect x="683" y="657" width="1" height="18" fill="#c0c0c0"/>
<rect x="691" y="655" width="1" height="20" fill="#c0c0c0"/>
<rect x="699" y="651" width="1" height="24" fill="#c0c0c0"/>
<rect x="707" y="647" width="1" height="28" fill="#c0c0c0"/>
<rect x="715" y="650" width="1" height="25" fill="#c0c0c0"/>
<rect x="723" y="653" width="1" height="22" fill="#c0c0c0"/>
<rect x="731" y="653" width="1" height="22" fill="#c0c0c0"/>
<rect x="739" y="653" width="1" height="22" fill="#c0c0c0"/>
<rect x="747" y="651" width="1" height="24" fill="#c0c0c0"/>
<rect x="755" y="651" width="1" height="24" fill="#c0c0c0"/>
<rect x="763" y="650" width="1" height="25" fill="#c0c0c0"/>
<rect x="771" y="647" width="1" height="28" fill="#c0c0c0"/>
<rect x="779" y="645" width="1" height="30" fill="#c0c0c0"/>
<rect x="787" y="642" width="1" height="33" fill="#c0c0c0"/>
<rect x="795" y="645" width="1" height="30" fill="#c0c0c0"/>
<rect x="803" y="647" width="1" height="28" fill="#c0c0c0"/>
<rect x="811" y="650" width="1" height="25" fill="#c0c0c0"/>
<rect x="819" y="648" width="1" height="27" fill="#c0c0c0"/>
<rect x="827" y="649" width="1" height="26" fill="#c0c0c0"/>
<rect x="835" y="647" width="1" height="28" fill="#c0c0c0"/>
<rect x="843" y="645" width="1" height="30" fill="#c0c0c0"/>
<rect x="851" y="646" width="1" height="29" fill="#c0c0c0"/>
<rect x="859" y="646" width="1" height="29" fill="#c0c0c0"/>
<rect x="867" y="645" width="1" height="30" fill="#c0c0c0"/>
<rect x="875" y="645" width="1" height="30" fill="#c0c0c0"/>
<rect x="883" y="641" width="1" height="34" fill="#c0c0c0"/>
<rect x="891" y="638" width="1" height="37" fill="#c0c0c0"/>
<rect x="899" y="636" width="1" height="39" fill="#c0c0c0"/>
<rect x="907" y="634" width="1" height="41" fill="#c0c0c0"/>
<rect x="915" y="634" width="1" height="41" fill="#c0c0c0"/>
<rect x="923" y="634" width="1" height="41" fill="#c0c0c0"/>
<rect x="931" y="631" width="1" height="44" fill="#c0c0c0"/>
<rect x="939" y="627" width="1" height="48" fill="#c0c0c0"/>
<rect x="947" y="625" width="1" height="50" fill="#c0c0c0"/>
<rect x="955" y="624" width="1" height="51" fill="#c0c0c0"/>
<rect x="963" y="625" width="1" height="50" fill="#c0c0c0"/>
<rect x="971" y="625" width="1" height="50" fill="#c0c0c0"/>
<rect x="979" y="626" width="1" height="49" fill="#c0c0c0"/>
<rect x="987" y="624" width="1" height="51" fill="#c0c0c0"/>
<rect x="995" y="622" width="1" height="53" fill="#c0c0c0"/>
<rect x="1003" y="617" width="1" height="58" fill="#c0c0c0"/>
<rect x="1011" y="611" width="1" height="64" fill="#c0c0c0"/>
<rect x="1019" y="609" width="1" height="66" fill="#c0c0c0"/>
<rect x="1027" y="606" width="1" height="69" fill="#c0c0c0"/>
<rect x="1035" y="602" width="1" height="73" fill="#c0c0c0"/>
<rect x="1043" y="600" width="1" height="75" fill="#c0c0c0"/>
<rect x="1051" y="600" width="1" height="75" fill="#c0c0c0"/>
<rect x="1059" y="597" width="1" height="78" fill="#c0c0c0"/>
<rect x="1067" y="590" width="1" height="85" fill="#c0c0c0"/>
<rect x="1075" y="590" width="1" height="85" fill="#c0c0c0"/>
<rect x="1083" y="592" width="1" height="83" fill="#c0c0c0"/>
<rect x="1091" y="594" width="1" height="81" fill="#c0c0c0"/>
<rect x="1099" y="596" width="1" height="79" fill="#c0c0c0"/>
<rect x="1107" y="599" width="1" height="76" fill="#c0c0c0"/>
<rect x="1115" y="601" width="1" height="74" fill="#c0c0c0"/>
<rect x="1123" y="600" width="1" height="75" fill="#c0c0c0"/>
<rect x="1131" y="600" width="1" height="75" fill="#c0c0c0"/>
<rect x="1139" y="600" width="1" height="75" fill="#c0c0c0"/>
<rect x="1147" y="599" width="1" height="76" fill="#c0c0c0"/>
<rect x="1155" y="598" width="1" height="77" fill="#c0c0c0"/>
<rect x="1163" y="598" width="1" height="77" fill="#c0c0c0"/>
<rect x="1171" y="594" width="1" height="81" fill="#c0c0c0"/>
<rect x="1179" y="593" width="1" height="82" fill="#c0c0c0"/>
<rect x="1187" y="592" width="1" height="83" fill="#c0c0c0"/>
<rect x="1195" y="594" width="1" height="81" fill="#c0c0c0"/>
<rect x="1203" y="595" width="1" height="80" fill="#c0c0c0"/>
<rect x="1211" y="599" width="1" height="76" fill="#c0c0c0"/>
<rect x="1219" y="600" width="1" height="75" fill="#c0c0c0"/>
<rect x="1227" y="609" width="1" height="66" fill="#c0c0c0"/>
<rect x="1235" y="616" width="1" height="59" fill="#c0c0c0"/>
<rect x="1243" y="622" width="1" height="53" fill="#c0c0c0"/>
<rect x="1251" y="632" width="1" height="43" fill="#c0c0c0"/>
<rect x="1259" y="642" width="1" height="33" fill="#c0c0c0"/>
<rect x="1267" y="646" width="1" height="29" fill="#c0c0c0"/>
<rect x="1275" y="645" width="1" height="30" fill="#c0c0c0"/>
<rect x="1283" y="644" width="1" height="31" fill="#c0c0c0"/>
<rect x="1291" y="643" width="1" height="32" fill="#c0c0c0"/>
<rect x="1299" y="642" width="1" height="33" fill="#c0c0c0"/>
<rect x="1307" y="638" width="1" height="37" fill="#c0c0c0"/>
<rect x="1315" y="633" width="1" height="42" fill="#c0c0c0"/>
<rect x="1323" y="629" width="1" height="46" fill="#c0c0c0"/>
<rect x="1331" y="627" width="1" height="48" fill="#c0c0c0"/>
<rect x="1339" y="630" width="1" height="45" fill="#c0c0c0"/>
<rect x="1347" y="637" width="1" height="38" fill="#c0c0c0"/>
<rect x="1355" y="647" width="1" height="28" fill="#c0c0c0"/>
<rect x="1363" y="653" width="1" height="22" fill="#c0c0c0"/>
<rect x="1371" y="659" width="1" height="16" fill="#c0c0c0"/>
<rect x="1379" y="668" width="1" height="7" fill="#c0c0c0"/>
<rect x="1387" y="672" width="1" height="3" fill="#c0c0c0"/>
<rect x="1395" y="673" width="1" height="2" fill="#c0c0c0"/>
<rect x="1411" y="674" width="1" height="3" fill="#c0c0c0"/>
</g>
<polyline fill="none" shape-rendering="crispEdges" stroke="#ff0000" stroke-width="1" points="1,707.1 8.3,714.4 14.6,718.5 27.1,724.8 37.5,730.6 50,733.7 60.4,735.6 68.7,735.2 79.1,732.5 91.6,726.9 104.1,719.6 116.6,710.6 129.1,701.9 141.6,693.1 154.1,685.6 164.5,680 179.1,674.8 195.7,672.7 229,672.7 268.6,673.8 279,675.9 291.5,677.9 301.9,680.6 316.5,683.8 333.1,685.9 345.6,685.2 350,684.2 362.5,677.9 375,671.3 387.5,665.4 400,658.2 412.5,651.9 425,649.4 437.4,650.2 454.1,649.2 466.6,647.3 483.3,646.3 495.7,644.6 508.2,643.2 522.8,641.1 533.2,641.5 543.6,643 558.2,643.6 570.7,646.1 583.2,649.8 595.7,654 608.2,657.7 620.7,659.8 633.1,661.7 643.6,662.7 654,661.9 666.5,660.7 683.1,660.7 695.6,659.2 703.1,657.1 710.4,655 727.1,652.3 745.8,651.3 770.8,650.2 787.4,649.4 799.9,647.3 818.7,646.3 843.7,645.2 849.9,646.3 877,646.1 891.5,644.2 899.9,642.1 914.4,639 924.9,638.4 937.3,635.3 949.8,632.1 962.3,629 974.8,628 991.5,625.5 1004,622.3 1016.5,619.6 1026.9,617.1 1037.3,614.4 1049.8,609.9 1059.3,605.3 1070.8,602.3 1082.4,597.2 1103.2,594.7 1124,594.7 1137.9,596.5 1161,598.4 1179.6,597.2 1195.7,594.9 1221.2,595.4 1239.7,599.3 1253.6,605.8 1267.5,616.2 1281.3,625.4 1295.2,633.5 1306.8,638.1 1316,640.5 1327.6,638.6 1339.2,635.8 1353.1,635.4 1366.9,637 1378.5,640.9 1390.1,646.9 1399.3,652 1408.6,658.5" stroke-dasharray="3,3"/>
<g shape-rendering="crispEdges">
<line x1="0" y1="788.5" x2="1682" y2="788.5" stroke="#c0c0c0" stroke-width="1" stroke-dasharray="3,3"/>
<line x1="0" y1="839.5" x2="1682" y2="839.5" stroke="#c0c0c0" stroke-width="1" stroke-dasharray="3,3"/>
<line x1="0" y1="900.5" x2="1682" y2="900.5" stroke="#c0c0c0" stroke-width="1" stroke-dasharray="3,3"/>
</g>
<polyline fill="none" shape-rendering="crispEdges" stroke="#1e90ff" stroke-width="1" points="-4.5,870.3 3.5,870.3 11.5,877 19.5,879.5 27.5,879.5 35.5,868.3 43.5,869.3 51.5,863.1 59.5,848.5 67.5,845.4 75.5,842.2 83.5,844.3 91.5,840.6 99.5,838.5 107.5,826.6 115.5,843.1 123.5,833.9 131.5,829.7 139.5,825.4 147.5,826.4 155.5,826.4 163.5,843.1 171.5,838.5 179.5,848.3 187.5,844.7 195.5,844.3 203.5,840.6 211.5,839.1 219.5,828.5 227.5,832.7 235.5,842.2 243.5,840.2 251.5,843.7 259.5,846.4 267.5,856.2 275.5,859.3 283.5,851.6 291.5,857.6 299.5,854.1 307.5,828.5 315.5,849.3 323.5,841.2 331.5,844.3 339.5,841.2 347.5,818.7 355.5,812.2 363.5,814.1 371.5,830.2 379.5,831.2 387.5,826.4 395.5,828.1 403.5,830.2 411.5,833.9 419.5,836.4 427.5,833.3 435.5,830.2 443.5,819.3 451.5,816.6 459.5,815.6 467.5,822.9 475.5,833.9 483.5,830.2 491.5,826.4 499.5,818.3 507.5,823.3 515.5,823.3 523.5,820.4 531.5,822.2 539.5,836 547.5,832.2 555.5,830.2 563.5,841 571.5,853.1 579.5,842.2 587.5,840.2 595.5,831.2 603.5,827.5 611.5,824.3 619.5,831.2 627.5,842.2 635.5,838.5 643.5,841.6 651.5,828.5 659.5,823.5 667.5,822.2 675.5,833.3 683.5,832.2 691.5,824.3 699.5,818.7 707.5,817.2 715.5,835.4 723.5,835.4 731.5,830.8 739.5,825.6 747.5,824.3 755.5,828.5 763.5,826.4 771.5,816.2 779.5,817.2 787.5,813.1 795.5,831.2 803.5,831.2 811.5,833.3 819.5,822.2 827.5,826.4 835.5,820.4 843.5,820.4 851.5,821.4 859.5,823.3 867.5,817.2 875.5,817.2 883.5,807.9 891.5,804.5 899.5,806.2 907.5,806.2 915.5,806.2 923.5,810.4 931.5,798.5 939.5,795.4 947.5,794.3 955.5,799.3 963.5,803.5 971.5,801.4 979.5,801.4 987.5,794.3 995.5,791.2 1003.5,783.7 1011.5,780.2 1019.5,795.4 1027.5,789.6 1035.5,788.1 1043.5,786.4 1051.5,794.2 1059.5,788.3 1067.5,782.4 1075.5,800.4 1083.5,805.5 1091.5,804.4 1099.5,804.4 1107.5,803.7 1115.5,802.7 1123.5,795.1 1131.5,795.1 1139.5,794 1147.5,791.2 1155.5,788.9 1163.5,787 1171.5,782.4 1179.5,783.5 1187.5,782.4 1195.5,791.6 1203.5,794.4 1211.5,789.3 1219.5,803.2 1227.5,817.1 1235.5,825.2 1243.5,824.5 1251.5,849.9 1259.5,852.3 1267.5,834.4 1275.5,822.9 1283.5,821.3 1291.5,823.6 1299.5,818.9 1307.5,810.6 1315.5,808.3 1323.5,807.4 1331.5,805.1 1339.5,829.8 1347.5,840.2 1355.5,848.3 1363.5,844.9 1371.5,844.9 1379.5,844.9 1387.5,852.5 1395.5,849.5 1403.5,852.5 1411.5,841.4"/>
<line x1="1079.8" y1="204.4" x2="1221.9" y2="83.2" stroke="#ff0000" stroke-width="3.6" stroke-linecap="butt"/>
<polygon fill="#ff0000" points="1228.7,77.4 1223.4,88.2 1217.2,80.9"/>
<line x1="1228.7" y1="77.4" x2="1263.2" y2="169" stroke="#ff0000" stroke-width="3.6" stroke-linecap="butt"/>
<polygon fill="#ff0000" points="1266.4,177.4 1258.1,168.8 1267,165.4"/>
<line x1="1266.4" y1="177.4" x2="1335" y2="67.2" stroke="#ff0000" stroke-width="3.6" stroke-linecap="butt"/>
<polygon fill="#ff0000" points="1339.8,59.6 1338,71.4 1330,66.4"/>
<line x1="1339.8" y1="59.6" x2="1402.9" y2="146.1" stroke="#ff0000" stroke-width="3.6" stroke-linecap="butt"/>
<polygon fill="#ff0000" points="1408.2,153.4 1397.9,147.3 1405.6,141.7"/>
<line x1="1408.2" y1="153.4" x2="1431.2" y2="123.3" stroke="#ff0000" stroke-width="3.6" stroke-linecap="butt"/>
<polygon fill="#ff0000" points="1436.7,116.2 1433.8,127.8 1426.2,122"/>
<line x1="1203.4" y1="593.3" x2="1264.3" y2="633.7" stroke="#ff0000" stroke-width="3" stroke-linecap="butt"/>
<polygon fill="#ff0000" points="1270.6,637.8 1260.3,636.1 1265,629"/>
<line x1="1270.6" y1="637.8" x2="1329" y2="620.4" stroke="#ff0000" stroke-width="3" stroke-linecap="butt"/>
<polygon fill="#ff0000" points="1336.2,618.3 1328.3,625.1 1325.9,616.9"/>
<line x1="1336.2" y1="618.3" x2="1384.9" y2="671.3" stroke="#ff0000" stroke-width="3" stroke-linecap="butt"/>
<polygon fill="#ff0000" points="1390,676.8 1380.4,672.7 1386.7,666.9"/>
<line x1="1390" y1="676.8" x2="1420" y2="679.4" stroke="#ff0000" stroke-width="3" stroke-linecap="butt"/>
<polygon fill="#ff0000" points="1427.5,680 1417.7,683.4 1418.4,675"/>
<line x1="1351.4" y1="841.4" x2="1420.8" y2="840.3" stroke="#ff0000" stroke-width="3" stroke-linecap="butt"/>
<polygon fill="#ff0000" points="1428.3,840.2 1418.9,844.6 1418.7,836.1"/>
<rect x="1148.5" y="64.5" width="61" height="18" fill="#fff" stroke="#ff0000" stroke-width="1" shape-rendering="crispEdges"/>
<text x="1179.3" y="79.8" font-size="18" fill="#ff0000" text-anchor="middle" font-family="Liberation Serif">152.555</text>
<rect x="1210" y="73" width="10" height="1" fill="#ff0000" shape-rendering="crispEdges"/>
<rect x="1260.5" y="43.5" width="61" height="18" fill="#fff" stroke="#ff0000" stroke-width="1" shape-rendering="crispEdges"/>
<text x="1291.3" y="58.8" font-size="18" fill="#ff0000" text-anchor="middle" font-family="Liberation Serif">153.388</text>
<rect x="1322" y="52" width="10" height="1" fill="#ff0000" shape-rendering="crispEdges"/>
<rect x="1188.5" y="167.5" width="61" height="18" fill="#fff" stroke="#ff0000" stroke-width="1" shape-rendering="crispEdges"/>
<text x="1219.3" y="182.8" font-size="18" fill="#ff0000" text-anchor="middle" font-family="Liberation Serif">148.460</text>
<rect x="1250" y="175" width="10" height="1" fill="#ff0000" shape-rendering="crispEdges"/>
<rect x="980.5" y="115.5" width="61" height="18" fill="#fff" stroke="#ff0000" stroke-width="1" shape-rendering="crispEdges"/>
<text x="1011.3" y="130.8" font-size="18" fill="#ff0000" text-anchor="middle" font-family="Liberation Serif">150.532</text>
<rect x="1042" y="124" width="10" height="1" fill="#ff0000" shape-rendering="crispEdges"/>
<text x="1452.6" y="157" font-size="21.5" fill="#00ee00" text-anchor="start" font-family="'Liberation Serif','Noto Serif CJK SC',serif">多空转折点</text>
<g shape-rendering="crispEdges">
<rect x="0" y="25" width="1683" height="1" fill="#000"/>
<rect x="1682" y="25" width="1" height="902" fill="#000"/>
<rect x="0" y="578" width="1683" height="1" fill="#000"/>
<rect x="0" y="580" width="1683" height="1" fill="#000"/>
<rect x="0" y="750" width="1683" height="1" fill="#000"/>
<rect x="0" y="752" width="1683" height="1" fill="#000"/>
<rect x="0" y="926" width="1683" height="1" fill="#000"/>
<rect x="0" y="579" width="1682" height="1" fill="#fff"/>
<rect x="0" y="751" width="1682" height="1" fill="#fff"/>
<rect x="1683" y="47" width="2" height="1" fill="#000"/>
<rect x="1683" y="80" width="2" height="1" fill="#000"/>
<rect x="1683" y="113" width="2" height="1" fill="#000"/>
<rect x="1683" y="146" width="2" height="1" fill="#000"/>
<rect x="1683" y="179" width="2" height="1" fill="#000"/>
<rect x="1683" y="212" width="2" height="1" fill="#000"/>
<rect x="1683" y="245" width="2" height="1" fill="#000"/>
<rect x="1683" y="278" width="2" height="1" fill="#000"/>
<rect x="1683" y="311" width="2" height="1" fill="#000"/>
<rect x="1683" y="344" width="2" height="1" fill="#000"/>
<rect x="1683" y="377" width="2" height="1" fill="#000"/>
<rect x="1683" y="410" width="2" height="1" fill="#000"/>
<rect x="1683" y="443" width="2" height="1" fill="#000"/>
<rect x="1683" y="476" width="2" height="1" fill="#000"/>
<rect x="1683" y="509" width="2" height="1" fill="#000"/>
<rect x="1683" y="542" width="2" height="1" fill="#000"/>
<rect x="1683" y="575" width="2" height="1" fill="#000"/>
<rect x="59" y="927" width="1" height="3" fill="#000"/>
<rect x="123" y="927" width="1" height="3" fill="#000"/>
<rect x="187" y="927" width="1" height="3" fill="#000"/>
<rect x="251" y="927" width="1" height="3" fill="#000"/>
<rect x="315" y="927" width="1" height="3" fill="#000"/>
<rect x="379" y="927" width="1" height="3" fill="#000"/>
<rect x="443" y="927" width="1" height="3" fill="#000"/>
<rect x="507" y="927" width="1" height="3" fill="#000"/>
<rect x="571" y="927" width="1" height="3" fill="#000"/>
<rect x="635" y="927" width="1" height="3" fill="#000"/>
<rect x="699" y="927" width="1" height="3" fill="#000"/>
<rect x="763" y="927" width="1" height="3" fill="#000"/>
<rect x="827" y="927" width="1" height="3" fill="#000"/>
<rect x="891" y="927" width="1" height="3" fill="#000"/>
<rect x="955" y="927" width="1" height="3" fill="#000"/>
<rect x="1019" y="927" width="1" height="3" fill="#000"/>
<rect x="1083" y="927" width="1" height="3" fill="#000"/>
<rect x="1147" y="927" width="1" height="3" fill="#000"/>
<rect x="1211" y="927" width="1" height="3" fill="#000"/>
<rect x="1275" y="927" width="1" height="3" fill="#000"/>
<rect x="1339" y="927" width="1" height="3" fill="#000"/>
<rect x="1403" y="927" width="1" height="3" fill="#000"/>
<rect x="1683" y="582" width="2" height="1" fill="#000"/>
<rect x="1683" y="674" width="2" height="1" fill="#000"/>
<rect x="1683" y="748" width="2" height="1" fill="#000"/>
<rect x="1683" y="788" width="2" height="1" fill="#000"/>
<rect x="1683" y="839" width="2" height="1" fill="#000"/>
<rect x="1683" y="900" width="2" height="1" fill="#000"/>
</g>
<text x="1688.5" y="50.7" font-size="9" fill="#000" text-anchor="start" font-family="Liberation Sans">153.590</text>
<text x="1688.5" y="83.7" font-size="9" fill="#000" text-anchor="start" font-family="Liberation Sans">152.295</text>
<text x="1688.5" y="116.7" font-size="9" fill="#000" text-anchor="start" font-family="Liberation Sans">150.965</text>
<text x="1688.5" y="149.7" font-size="9" fill="#000" text-anchor="start" font-family="Liberation Sans">149.670</text>
<text x="1688.5" y="182.7" font-size="9" fill="#000" text-anchor="start" font-family="Liberation Sans">148.340</text>
<text x="1688.5" y="215.7" font-size="9" fill="#000" text-anchor="start" font-family="Liberation Sans">147.045</text>
<text x="1688.5" y="248.7" font-size="9" fill="#000" text-anchor="start" font-family="Liberation Sans">145.750</text>
<text x="1688.5" y="281.7" font-size="9" fill="#000" text-anchor="start" font-family="Liberation Sans">144.420</text>
<text x="1688.5" y="314.7" font-size="9" fill="#000" text-anchor="start" font-family="Liberation Sans">143.125</text>
<text x="1688.5" y="347.7" font-size="9" fill="#000" text-anchor="start" font-family="Liberation Sans">141.795</text>
<text x="1688.5" y="380.7" font-size="9" fill="#000" text-anchor="start" font-family="Liberation Sans">140.500</text>
<text x="1688.5" y="413.7" font-size="9" fill="#000" text-anchor="start" font-family="Liberation Sans">139.170</text>
<text x="1688.5" y="446.7" font-size="9" fill="#000" text-anchor="start" font-family="Liberation Sans">137.875</text>
<text x="1688.5" y="479.7" font-size="9" fill="#000" text-anchor="start" font-family="Liberation Sans">136.545</text>
<text x="1688.5" y="512.7" font-size="9" fill="#000" text-anchor="start" font-family="Liberation Sans">135.250</text>
<text x="1688.5" y="545.7" font-size="9" fill="#000" text-anchor="start" font-family="Liberation Sans">133.920</text>
<text x="1688.5" y="578.7" font-size="9" fill="#000" text-anchor="start" font-family="Liberation Sans">132.625</text>
<text x="-6" y="939" font-size="9" fill="#000" text-anchor="start" font-family="Liberation Sans">18 Sep 2020</text>
<text x="58" y="939" font-size="9" fill="#000" text-anchor="start" font-family="Liberation Sans">28 Sep 2020</text>
<text x="122" y="939" font-size="9" fill="#000" text-anchor="start" font-family="Liberation Sans">7 Oct 2020</text>
<text x="186" y="939" font-size="9" fill="#000" text-anchor="start" font-family="Liberation Sans">16 Oct 2020</text>
<text x="250" y="939" font-size="9" fill="#000" text-anchor="start" font-family="Liberation Sans">26 Oct 2020</text>
<text x="314" y="939" font-size="9" fill="#000" text-anchor="start" font-family="Liberation Sans">4 Nov 2020</text>
<text x="378" y="939" font-size="9" fill="#000" text-anchor="start" font-family="Liberation Sans">13 Nov 2020</text>
<text x="442" y="939" font-size="9" fill="#000" text-anchor="start" font-family="Liberation Sans">23 Nov 2020</text>
<text x="506" y="939" font-size="9" fill="#000" text-anchor="start" font-family="Liberation Sans">2 Dec 2020</text>
<text x="570" y="939" font-size="9" fill="#000" text-anchor="start" font-family="Liberation Sans">11 Dec 2020</text>
<text x="634" y="939" font-size="9" fill="#000" text-anchor="start" font-family="Liberation Sans">21 Dec 2020</text>
<text x="698" y="939" font-size="9" fill="#000" text-anchor="start" font-family="Liberation Sans">31 Dec 2020</text>
<text x="762" y="939" font-size="9" fill="#000" text-anchor="start" font-family="Liberation Sans">11 Jan 2021</text>
<text x="826" y="939" font-size="9" fill="#000" text-anchor="start" font-family="Liberation Sans">20 Jan 2021</text>
<text x="890" y="939" font-size="9" fill="#000" text-anchor="start" font-family="Liberation Sans">29 Jan 2021</text>
<text x="954" y="939" font-size="9" fill="#000" text-anchor="start" font-family="Liberation Sans">8 Feb 2021</text>
<text x="1018" y="939" font-size="9" fill="#000" text-anchor="start" font-family="Liberation Sans">17 Feb 2021</text>
<text x="1082" y="939" font-size="9" fill="#000" text-anchor="start" font-family="Liberation Sans">26 Feb 2021</text>
<text x="1146" y="939" font-size="9" fill="#000" text-anchor="start" font-family="Liberation Sans">8 Mar 2021</text>
<text x="1210" y="939" font-size="9" fill="#000" text-anchor="start" font-family="Liberation Sans">17 Mar 2021</text>
<text x="1274" y="939" font-size="9" fill="#000" text-anchor="start" font-family="Liberation Sans">26 Mar 2021</text>
<text x="1338" y="939" font-size="9" fill="#000" text-anchor="start" font-family="Liberation Sans">6 Apr 2021</text>
<text x="1402" y="939" font-size="9" fill="#000" text-anchor="start" font-family="Liberation Sans">15 Apr 2021</text>
<text x="1686.5" y="591" font-size="9" fill="#000" text-anchor="start" font-family="Liberation Sans">1.8026</text>
<text x="1686.5" y="678" font-size="9" fill="#000" text-anchor="start" font-family="Liberation Sans">0.00</text>
<text x="1686.5" y="746.5" font-size="9" fill="#000" text-anchor="start" font-family="Liberation Sans">-1.4717</text>
<text x="1686" y="763" font-size="9" fill="#000" text-anchor="start" font-family="Liberation Sans">100</text>
<text x="1686" y="792" font-size="9" fill="#000" text-anchor="start" font-family="Liberation Sans">80</text>
<text x="1686" y="843" font-size="9" fill="#000" text-anchor="start" font-family="Liberation Sans">50</text>
<text x="1686" y="904" font-size="9" fill="#000" text-anchor="start" font-family="Liberation Sans">15</text>
<text x="1686" y="923" font-size="9" fill="#000" text-anchor="start" font-family="Liberation Sans">0</text>
<rect x="1684" y="86" width="41" height="11" fill="#ff0000" shape-rendering="crispEdges"/>
<text x="1688.5" y="94.8" font-size="9" fill="#fff" text-anchor="start" font-family="Liberation Sans">151.802</text>
<rect x="1684" y="101" width="41" height="11" fill="#ff0000" shape-rendering="crispEdges"/>
<text x="1688.5" y="109.8" font-size="9" fill="#fff" text-anchor="start" font-family="Liberation Sans">151.206</text>
<rect x="1684" y="118" width="41" height="11" fill="#00bcc8" shape-rendering="crispEdges"/>
<text x="1688.5" y="126.8" font-size="9" fill="#fff" text-anchor="start" font-family="Liberation Sans">150.532</text>
<rect x="1684" y="129" width="41" height="2" fill="#000" shape-rendering="crispEdges"/>
<rect x="1684" y="148" width="41" height="11" fill="#0000ff" shape-rendering="crispEdges"/>
<text x="1688.5" y="156.8" font-size="9" fill="#fff" text-anchor="start" font-family="Liberation Sans">149.342</text>
<rect x="1684" y="167" width="41" height="11" fill="#0000ff" shape-rendering="crispEdges"/>
<text x="1688.5" y="175.8" font-size="9" fill="#fff" text-anchor="start" font-family="Liberation Sans">148.588</text>
<text x="10" y="36.7" font-size="9" fill="#000" text-anchor="start" font-family="Liberation Sans" textLength="62.5" lengthAdjust="spacingAndGlyphs">GBPJPY-,Daily</text>
<text x="79.4" y="36.7" font-size="9" fill="#000" text-anchor="start" font-family="Liberation Sans">149.787</text>
<text x="115.3" y="36.7" font-size="9" fill="#000" text-anchor="start" font-family="Liberation Sans">150.499</text>
<text x="151.2" y="36.7" font-size="9" fill="#000" text-anchor="start" font-family="Liberation Sans">149.376</text>
<text x="187.1" y="36.7" font-size="9" fill="#000" text-anchor="start" font-family="Liberation Sans">150.498</text>
<polygon points="-2.2,36 1.5,31 5.2,36" fill="#000"/>
<text x="0" y="593" font-size="9" fill="#000" text-anchor="start" font-family="Liberation Sans" textLength="130" lengthAdjust="spacingAndGlyphs">MACD(12,26,9) -0.0445 0.2596</text>
<text x="0" y="765" font-size="9" fill="#000" text-anchor="start" font-family="Liberation Sans" textLength="66.5" lengthAdjust="spacingAndGlyphs">RSI(14) 49.1121</text>
<polygon points="1423,26 1432.5,26 1427.7,31.2" fill="#c0c0c0"/>
<g id="toolbar">
<rect x="0" y="0" width="1729" height="21" fill="#f0f0f0"/>
<rect x="0" y="20.5" width="1729" height="2.6" fill="url(#tbline)"/>
<rect x="1727.6" y="23" width="1.4" height="920" fill="#e8e8e8"/>
<rect x="-3" y="2.5" width="8" height="13" fill="#fff" stroke="#3d7fc5" stroke-width="1.2"/>
<rect x="-3" y="3" width="7.5" height="2.5" fill="#cfe0f5"/>
<path d="M2.3 8.3l1.3 1.3-1.3 1.3-1.3-1.3z" fill="none" stroke="#222" stroke-width="0.7"/>
<rect x="18.7" y="1.7" width="12" height="12.6" fill="#fafafa" stroke="#b8b0a8" stroke-width="1"/>
<path d="M21 4v6M21 6h2M27 3v6M27 5h2" stroke="#888" stroke-width="0.8" fill="none"/>
<line x1="30.4" y1="14.4" x2="35" y2="17.8" stroke="#c8960c" stroke-width="2.6" stroke-linecap="round"/>
<circle cx="26.6" cy="10.3" r="5" fill="#d5e6f7" fill-opacity="0.85" stroke="#5a8fe0" stroke-width="1.2"/>
<rect x="24.5" y="7" width="3" height="6" fill="#9fb4c8" opacity="0.8"/>
<rect x="43" y="0" width="1" height="19" fill="#a8a8a8"/>
<path d="M53.5 1.8h8.0l3.5 3.5v9.3h-11.5z" fill="#fdfdfd" stroke="#8a8a8a" stroke-width="1"/>
<path d="M55.5 4.8h3M55.5 7.8h6M55.5 10.3h5" stroke="#999" stroke-width="1" fill="none"/>
<path d="M61.1 7h3.6v4.2h4.2v3.6h-4.2v4.2h-3.6v-4.2h-4.2v-3.6h4.2z" fill="#22bb22" stroke="#0d7f0d" stroke-width="0.8"/>
<path d="M61.9 8v4.2" stroke="#9fef9f" stroke-width="0.9"/>
<text x="71.8" y="12.2" font-size="12" fill="#000" text-anchor="start" font-family="'Liberation Sans','Noto Sans CJK SC',sans-serif">新订单</text>
<path d="M127.4 2.3L135.9 9.3L129.6 16.5L120 10.4z" fill="url(#gold)" stroke="#a8700f" stroke-width="0.9"/>
<path d="M120.4 11.2L129.6 17.3L135.6 10.3" fill="none" stroke="#8a5a0a" stroke-width="1.2"/>
<path d="M150.3 1.2h8l3 2v8.5h-11z" fill="#3b8de0" stroke="#2a6fc0" stroke-width="0.8"/>
<path d="M152 3.5h5M152 6h7" stroke="#cfe4fa" stroke-width="1.2"/>
<path d="M150.5 16.3a2.8 2.8 0 0 1 0.3-5.6a4 4 0 0 1 7.4-1a3.2 3.2 0 0 1 5 2.6a2.2 2.2 0 0 1-1 4z" fill="#e6eefa" stroke="#7f9fd0" stroke-width="1"/>
<g fill="none" stroke-width="1.3"><path d="M178.5 14.5a8 8 0 0 1 5.6-13.6" stroke="#8fb0e8"/><path d="M184.1 0.9a8 8 0 0 1 5 14" stroke="#9fd09f"/><path d="M180.7 12.5a5.2 5.2 0 0 1 3.4-9" stroke="#4f7fd8"/><path d="M184.1 3.5a5.2 5.2 0 0 1 3 9.5" stroke="#58b058"/></g>
<circle cx="184.1" cy="8.6" r="2" fill="#2f62d0"/>
<path d="M184.6 8.6v8l4.5-2.8" fill="none" stroke="#2fa52f" stroke-width="1.8"/>
<path d="M203.8 7.2h15.2l-9 8.4z" fill="#f3cd3c" stroke="#d4a017" stroke-width="0.8"/>
<ellipse cx="211.4" cy="5.6" rx="7.8" ry="2.6" fill="#5a9fe0" stroke="#3a7fc8" stroke-width="0.7"/>
<ellipse cx="211.4" cy="3.6" rx="4" ry="2.6" fill="#6aaee8" stroke="#3a7fc8" stroke-width="0.7"/>
<circle cx="215.6" cy="12.6" r="3.9" fill="#d82222" stroke="#b01010" stroke-width="0.6"/>
<rect x="214" y="11" width="3.2" height="3.2" fill="#fff"/>
<text x="224.3" y="12.2" font-size="12" fill="#000" text-anchor="start" font-family="'Liberation Sans','Noto Sans CJK SC',sans-serif">自动交易</text>
<rect x="279" y="0" width="1" height="19" fill="#a8a8a8"/>
<rect x="283" y="1" width="3" height="1" fill="#b0b0b0"/>
<rect x="283" y="3" width="3" height="1" fill="#b0b0b0"/>
<rect x="283" y="5" width="3" height="1" fill="#b0b0b0"/>
<rect x="283" y="7" width="3" height="1" fill="#b0b0b0"/>
<rect x="283" y="9" width="3" height="1" fill="#b0b0b0"/>
<rect x="283" y="11" width="3" height="1" fill="#b0b0b0"/>
<rect x="283" y="13" width="3" height="1" fill="#b0b0b0"/>
<rect x="283" y="15" width="3" height="1" fill="#b0b0b0"/>
<rect x="283" y="17" width="3" height="1" fill="#b0b0b0"/>
<path d="M297.4 16.8V3M295.09999999999997 14.7H308.4" stroke="#505050" stroke-width="1.3" fill="none"/>
<path d="M295.59999999999997 5.3L297.4 2.6L299.2 5.3M306.4 12.9L309.0 14.7L306.4 16.5" stroke="#505050" stroke-width="1.1" fill="none"/>
<path d="M303.7 4.6V12.6M303.7 5.5H306M301.4 11.3H303.7" stroke="#1a9a1a" stroke-width="1.4" fill="none"/>
<rect x="317" y="0" width="1" height="19" fill="#a8a8a8"/>
<rect x="318.5" y="0" width="24" height="19.5" fill="#f9f9f9"/>
<path d="M325.5 16.8V3M323.2 14.7H336.5" stroke="#505050" stroke-width="1.3" fill="none"/>
<path d="M323.7 5.3L325.5 2.6L327.3 5.3M334.5 12.9L337.1 14.7L334.5 16.5" stroke="#505050" stroke-width="1.1" fill="none"/>
<path d="M331.6 1V12.8" stroke="#0a8a0a" stroke-width="1.2"/><rect x="329.6" y="3" width="4" height="7.8" fill="#2fd02f" stroke="#0a8a0a" stroke-width="0.9"/>
<path d="M353.6 16.8V3M351.3 14.7H364.6" stroke="#505050" stroke-width="1.3" fill="none"/>
<path d="M351.8 5.3L353.6 2.6L355.40000000000003 5.3M362.6 12.9L365.20000000000005 14.7L362.6 16.5" stroke="#505050" stroke-width="1.1" fill="none"/>
<path d="M352.2 11.7C355 9 356.5 6.2 358.4 6.2S362 9 364 10.2" stroke="#2a9a2a" stroke-width="1.3" fill="none"/>
<rect x="374" y="0" width="1" height="19" fill="#a8a8a8"/>
<line x1="393" y1="11.5" x2="398" y2="15.8" stroke="#d4a820" stroke-width="2.8" stroke-linecap="round"/>
<circle cx="389" cy="7.2" r="5.2" fill="#dcecf9" stroke="#3f7fd8" stroke-width="1.4"/>
<path d="M386 7.2h6M389 4.2v6" stroke="#3c6fa8" stroke-width="1.6"/>
<line x1="420.8" y1="11.5" x2="425.8" y2="15.8" stroke="#d4a820" stroke-width="2.8" stroke-linecap="round"/>
<circle cx="416.8" cy="7.2" r="5.2" fill="#dcecf9" stroke="#3f7fd8" stroke-width="1.4"/>
<path d="M413.8 7.2h6" stroke="#3c6fa8" stroke-width="1.6"/>
<rect x="439.3" y="1.3" width="7.6" height="7.6" fill="#4f9f2c"/><rect x="447.4" y="1.3" width="7.6" height="7.6" fill="#2b62c0"/>
<rect x="439.3" y="9.3" width="7.6" height="7.6" fill="#2b62c0"/><rect x="447.4" y="9.3" width="7.6" height="7.6" fill="#4f9f2c"/>
<rect x="440.6" y="3.8" width="5" height="3.4" fill="#eef4ee"/>
<rect x="448.7" y="3.8" width="5" height="3.4" fill="#eef4ee"/>
<rect x="440.6" y="11.8" width="5" height="3.4" fill="#eef4ee"/>
<rect x="448.7" y="11.8" width="5" height="3.4" fill="#eef4ee"/>
<rect x="464" y="0" width="1" height="19" fill="#a8a8a8"/>
<rect x="469" y="0" width="1" height="19" fill="#a8a8a8"/>
<rect x="470" y="0" width="24" height="19.5" fill="#f7f7f7"/>
<path d="M477 16.8V3M474.7 14.7H488" stroke="#505050" stroke-width="1.3" fill="none"/>
<path d="M475.2 5.3L477 2.6L478.8 5.3M486 12.9L488.6 14.7L486 16.5" stroke="#505050" stroke-width="1.1" fill="none"/>
<path d="M482.5 5.2L486.6 8.4L482.5 11.6z" fill="#3fbf3f" stroke="#1a8f1a" stroke-width="0.8"/>
<rect x="497" y="0" width="1" height="19" fill="#a8a8a8"/>
<rect x="498" y="0" width="24" height="19.5" fill="#f7f7f7"/>
<path d="M505 16.8V3M502.7 14.7H516" stroke="#505050" stroke-width="1.3" fill="none"/>
<path d="M503.2 5.3L505 2.6L506.8 5.3M514 12.9L516.6 14.7L514 16.5" stroke="#505050" stroke-width="1.1" fill="none"/>
<path d="M511.6 3V13" stroke="#2a6fc8" stroke-width="1.2"/><path d="M517 8H513M514.8 6.2L512.8 8L514.8 9.8" stroke="#d83a1a" stroke-width="1.1" fill="none"/>
<rect x="526" y="0" width="1" height="19" fill="#a8a8a8"/>
<path d="M536.5 1.8h8.0l3.5 3.5v9.3h-11.5z" fill="#fdfdfd" stroke="#8a8a8a" stroke-width="1"/>
<path d="M538.5 4.8h3M538.5 7.8h6M538.5 10.3h5" stroke="#999" stroke-width="1" fill="none"/>
<path d="M544.2 6.5h3.6v4.2h4.2v3.6h-4.2v4.2h-3.6v-4.2h-4.2v-3.6h4.2z" fill="#22bb22" stroke="#0d7f0d" stroke-width="0.8"/>
<path d="M545.0 7.5v4.2" stroke="#9fef9f" stroke-width="0.9"/>
<path d="M557.6 8l2.8 3l2.8-3z" fill="#111"/>
<circle cx="581.8" cy="8.6" r="7.3" fill="#2f78d8" stroke="#1f5fb8" stroke-width="0.8"/><circle cx="581.8" cy="8.6" r="5" fill="#fcfcfc"/>
<path d="M581.8 5V8.8H584.5" stroke="#444" stroke-width="1" fill="none"/>
<path d="M596.6 8l2.8 3l2.8-3z" fill="#111"/>
<rect x="613.5" y="2.2" width="15.2" height="13.6" fill="#fdfdfd" stroke="#5a84c8" stroke-width="1"/><rect x="613.5" y="2.2" width="15.2" height="2.4" fill="#3f78d0"/>
<path d="M615.5 8.5l3-1l3 0.6l3-1.6l2.5 0.2" stroke="#b03020" stroke-width="1.2" fill="none"/><path d="M615.5 13.5l3-1.4l3 1l3-2l2.5 1.4" stroke="#2a9a2a" stroke-width="1.2" fill="none"/>
<path d="M635.7 8l2.8 3l2.8-3z" fill="#111"/>
<rect x="647" y="0" width="1" height="19" fill="#a8a8a8"/>
<rect x="650" y="1" width="3" height="1" fill="#b0b0b0"/>
<rect x="650" y="3" width="3" height="1" fill="#b0b0b0"/>
<rect x="650" y="5" width="3" height="1" fill="#b0b0b0"/>
<rect x="650" y="7" width="3" height="1" fill="#b0b0b0"/>
<rect x="650" y="9" width="3" height="1" fill="#b0b0b0"/>
<rect x="650" y="11" width="3" height="1" fill="#b0b0b0"/>
<rect x="650" y="13" width="3" height="1" fill="#b0b0b0"/>
<rect x="650" y="15" width="3" height="1" fill="#b0b0b0"/>
<rect x="650" y="17" width="3" height="1" fill="#b0b0b0"/>
<rect x="656.5" y="0" width="1" height="19" fill="#c8c8c8"/><rect x="657.5" y="0" width="25" height="19.5" fill="#f8f8f8"/>
<path d="M665 1.8V14.2L667.9 11.6L670.2 16.4L672.2 15.4L670 10.8L674 10.6z" fill="#3a3a3a"/>
<path d="M697.5 1.8V16.6M690 9.2H705" stroke="#505050" stroke-width="1.2"/>
<rect x="714" y="0" width="1" height="19" fill="#a8a8a8"/>
<path d="M731.4 2.5V16M753.7 9.2H766M782.2 16L794 4.2" stroke="#505050" stroke-width="1.2"/>
<path d="M808 13.5L820 2.5M810 16.5L822 5.5M812.5 4.5L815.5 16M816.5 2.5L819.5 13" stroke="#505050" stroke-width="1" fill="none"/>
<text x="818.5" y="17.5" font-size="6.5" font-weight="bold" fill="#333" font-family="Liberation Sans">E</text>
<line x1="836.5" y1="2.5" x2="848" y2="2.5" stroke="#505050" stroke-width="1" stroke-dasharray="1,1"/>
<line x1="836.5" y1="5.5" x2="848" y2="5.5" stroke="#505050" stroke-width="1" stroke-dasharray="1,1"/>
<line x1="836.5" y1="9.5" x2="848" y2="9.5" stroke="#505050" stroke-width="1" stroke-dasharray="1,1"/>
<line x1="836.5" y1="13.5" x2="848" y2="13.5" stroke="#505050" stroke-width="1" stroke-dasharray="1,1"/>
<text x="845.5" y="17.5" font-size="6.5" font-weight="bold" fill="#333" font-family="Liberation Sans">F</text>
<text x="871.6" y="14" font-size="13" fill="#5a5a5a" stroke="#5a5a5a" stroke-width="0.4" text-anchor="middle" font-family="Liberation Sans">A</text>
<rect x="893.5" y="2.5" width="12.5" height="12.5" fill="none" stroke="#505050" stroke-width="1" stroke-dasharray="1,1"/>
<text x="899.8" y="13.5" font-size="11.5" fill="#5a5a5a" stroke="#5a5a5a" stroke-width="0.4" text-anchor="middle" font-family="Liberation Sans">T</text>
<path d="M922 7l3-3.4l3 3.4zM934 11l-3 3.4l-3-3.4z" fill="#444"/><path d="M923.5 8.8l2.4 2.2l3.6-3.6" stroke="#444" stroke-width="1.3" fill="none"/>
<path d="M941.4000000000001 8l2.8 3l2.8-3z" fill="#111"/>
<rect x="953" y="0" width="1" height="19" fill="#a8a8a8"/>
<rect x="957" y="1" width="3" height="1" fill="#b0b0b0"/>
<rect x="957" y="3" width="3" height="1" fill="#b0b0b0"/>
<rect x="957" y="5" width="3" height="1" fill="#b0b0b0"/>
<rect x="957" y="7" width="3" height="1" fill="#b0b0b0"/>
<rect x="957" y="9" width="3" height="1" fill="#b0b0b0"/>
<rect x="957" y="11" width="3" height="1" fill="#b0b0b0"/>
<rect x="957" y="13" width="3" height="1" fill="#b0b0b0"/>
<rect x="957" y="15" width="3" height="1" fill="#b0b0b0"/>
<rect x="957" y="17" width="3" height="1" fill="#b0b0b0"/>
<rect x="1131.5" y="0" width="1" height="19" fill="#c0c0c0"/><rect x="1132.5" y="0" width="24.5" height="19.5" fill="#f7f7f7"/>
<text x="974.9" y="12.8" font-size="9" fill="#3c3c3c" text-anchor="middle" font-family="Liberation Sans">M1</text>
<text x="1002.9" y="12.8" font-size="9" fill="#3c3c3c" text-anchor="middle" font-family="Liberation Sans">M5</text>
<text x="1031.3" y="12.8" font-size="9" fill="#3c3c3c" text-anchor="middle" font-family="Liberation Sans">M15</text>
<text x="1059.3" y="12.8" font-size="9" fill="#3c3c3c" text-anchor="middle" font-family="Liberation Sans">M30</text>
<text x="1087.5" y="12.8" font-size="9" fill="#3c3c3c" text-anchor="middle" font-family="Liberation Sans">H1</text>
<text x="1114.8" y="12.8" font-size="9" fill="#3c3c3c" text-anchor="middle" font-family="Liberation Sans">H4</text>
<text x="1143.6" y="12.8" font-size="9" fill="#3c3c3c" text-anchor="middle" font-family="Liberation Sans">D1</text>
<text x="1172" y="12.8" font-size="9" fill="#3c3c3c" text-anchor="middle" font-family="Liberation Sans">W1</text>
<text x="1198.7" y="12.8" font-size="9" fill="#3c3c3c" text-anchor="middle" font-family="Liberation Sans">MN</text>
<rect x="1214" y="0" width="1" height="19" fill="#a8a8a8"/>
<line x1="1682" y1="9.5" x2="1677" y2="13.8" stroke="#2a5fd0" stroke-width="2.4" stroke-linecap="round"/><circle cx="1684.8" cy="6.4" r="4" fill="#f4f7fc" stroke="#2a5fd0" stroke-width="1.3"/>
<path d="M1701.2 10.8a6 4.8 0 0 1 12 0a6 4.8 0 0 1-7.6 4.6l-2 2.2l0-3.4a6 4.8 0 0 1-2.4-3.4z" fill="#e6e8ee" stroke="#c0c4cc" stroke-width="0.8"/>
<circle cx="1715.4" cy="6.4" r="8" fill="url(#redb)"/>
<text x="1715.2" y="11" font-size="12.5" fill="#fff" text-anchor="middle" font-family="Liberation Sans">1</text>
</g>
<g id="panel">
<rect x="0" y="45" width="50" height="25" fill="url(#btn1)"/>
<rect x="165" y="45" width="52" height="25" fill="url(#btn1)"/>
<rect x="0" y="69" width="107" height="40" fill="url(#btn2)"/>
<rect x="109" y="69" width="108" height="40" fill="url(#btn2)"/>
<rect x="107" y="69" width="2" height="40" fill="#fff"/>
<rect x="2" y="68" width="44" height="1" fill="#9a9af8"/><rect x="169" y="68" width="44" height="1" fill="#9a9af8"/>
<rect x="50" y="45" width="115" height="24" fill="#fff"/>
<rect x="52.5" y="45.5" width="110" height="21" fill="#fff" stroke="#b4b4b4" stroke-width="1"/>
<rect x="53.5" y="46.5" width="19" height="19" fill="url(#spin)" stroke="#c8c8c8" stroke-width="1"/>
<rect x="142.5" y="46.5" width="19" height="19" fill="url(#spin)" stroke="#c8c8c8" stroke-width="1"/>
<path d="M60.4 54.6h4.6l-2.3 2.6z" fill="#4a64a8"/><path d="M148.6 57.2h4.6l-2.3-2.6z" fill="#4a64a8"/>
<text x="137.2" y="59.8" font-size="11.8" fill="#000" text-anchor="end" font-family="Liberation Sans">1.00</text>
<text x="10.6" y="60.6" font-size="11.6" fill="#fff" textLength="25.4" lengthAdjust="spacingAndGlyphs" font-family="Liberation Sans">SELL</text>
<text x="178.8" y="60.6" font-size="11.6" fill="#fff" textLength="22.8" lengthAdjust="spacingAndGlyphs" font-family="Liberation Sans">BUY</text>
<text x="21.8" y="99.1" font-size="10.6" font-weight="bold" fill="#fff" textLength="20" lengthAdjust="spacingAndGlyphs" font-family="Liberation Sans">150</text>
<text x="44.2" y="99.2" font-size="32" fill="#fff" font-family="Liberation Sans">49</text>
<text x="85.5" y="83.3" font-size="10.6" font-weight="bold" fill="#fff" font-family="Liberation Sans">8</text>
<text x="131.6" y="99.1" font-size="10.6" font-weight="bold" fill="#fff" textLength="20" lengthAdjust="spacingAndGlyphs" font-family="Liberation Sans">150</text>
<text x="156.8" y="99.2" font-size="32" fill="#fff" font-family="Liberation Sans">54</text>
<text x="195.5" y="83.3" font-size="10.6" font-weight="bold" fill="#fff" font-family="Liberation Sans">0</text>
</g>
</svg>
</body></html>
